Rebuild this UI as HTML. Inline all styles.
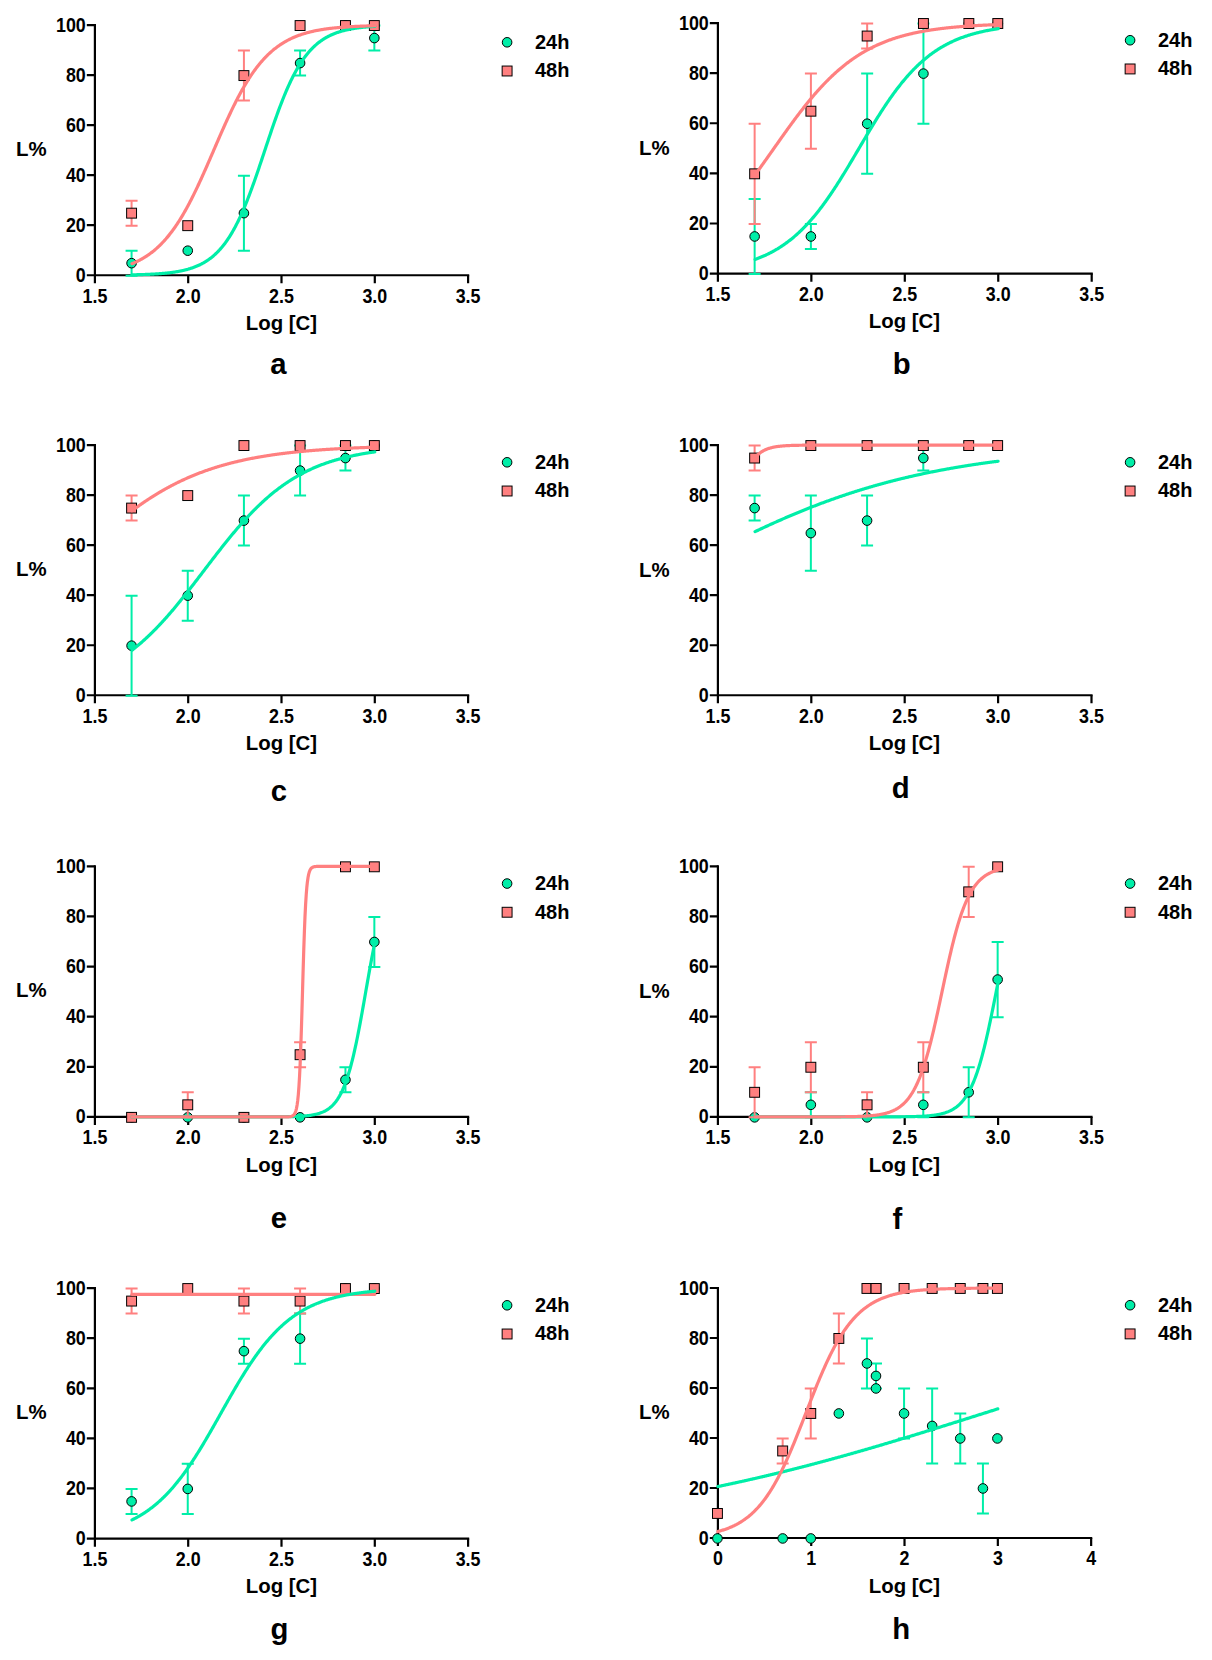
<!DOCTYPE html>
<html lang="en"><head><meta charset="utf-8">
<title>Dose-response curves</title>
<style>
html,body{margin:0;padding:0;background:#fff;}
body{width:1212px;height:1660px;overflow:hidden;}
svg{display:block;}
text{font-family:"Liberation Sans",Arial,Helvetica,sans-serif;font-weight:bold;fill:#000;}
.tl text{font-size:20.3px;}
.at{font-size:20.4px;}
.lg{font-size:20px;}
.pl{font-size:29.3px;}
.ax path{stroke:#000;stroke-width:2.2;fill:none;}
.eg{stroke:#00EEA8;stroke-width:2.0;fill:none;}
.er{stroke:#FF8080;stroke-width:2.0;fill:none;}
.mg{fill:#00EEA8;stroke:#000;stroke-width:1.0;}
.mr{fill:#FF8080;stroke:#000;stroke-width:1.0;}
.cg{stroke:#00EEA8;stroke-width:3.2;fill:none;stroke-linecap:round;stroke-linejoin:round;}
.cr{stroke:#FF8080;stroke-width:3.2;fill:none;stroke-linecap:round;stroke-linejoin:round;}
</style></head><body>
<svg width="1212" height="1660" viewBox="0 0 1212 1660">
<rect width="1212" height="1660" fill="#fff"/>
<g class="panel">
<g class="ax">
<path d="M94.9 24 V283.35"/>
<path d="M86.8 275.25 H469.2"/>
<path d="M86.8 225.22 H94.9 M86.8 175.19 H94.9 M86.8 125.16 H94.9 M86.8 75.13 H94.9 M86.8 25.1 H94.9 M188.2 275.25 V283.35 M281.5 275.25 V283.35 M374.8 275.25 V283.35 M468.1 275.25 V283.35"/>
</g>
<g class="tl" text-anchor="end">
<text transform="translate(85.8 281.75) scale(0.88 1)">0</text>
<text transform="translate(85.8 231.72) scale(0.88 1)">20</text>
<text transform="translate(85.8 181.69) scale(0.88 1)">40</text>
<text transform="translate(85.8 131.66) scale(0.88 1)">60</text>
<text transform="translate(85.8 81.63) scale(0.88 1)">80</text>
<text transform="translate(85.8 31.6) scale(0.88 1)">100</text>
</g>
<g class="tl" text-anchor="middle">
<text transform="translate(94.9 302.65) scale(0.88 1)">1.5</text>
<text transform="translate(188.2 302.65) scale(0.88 1)">2.0</text>
<text transform="translate(281.5 302.65) scale(0.88 1)">2.5</text>
<text transform="translate(374.8 302.65) scale(0.88 1)">3.0</text>
<text transform="translate(468.1 302.65) scale(0.88 1)">3.5</text>
</g>
<text class="at" x="16" y="155.88">L%</text>
<text class="at" text-anchor="middle" x="281.4" y="329.85">Log [C]</text>
<text class="pl" text-anchor="middle" x="278.5" y="374.1">a</text>
<circle class="mg" cx="507.1" cy="42.3" r="4.8"/>
<rect class="mr" x="502.15" y="66.05" width="9.9" height="9.9"/>
<text class="lg" x="535" y="48.6">24h</text>
<text class="lg" x="535" y="77.3">48h</text>
<path class="eg" d="M131.58 250.69 V275.7 M125.58 250.69 H137.58 M125.58 275.7 H137.58 M243.92 175.64 V250.69 M237.92 175.64 H249.92 M237.92 250.69 H249.92 M300.09 50.57 V75.58 M294.09 50.57 H306.09 M294.09 75.58 H306.09 M374.35 25.55 V50.57 M368.35 25.55 H380.35 M368.35 50.57 H380.35"/>
<circle class="mg" cx="131.58" cy="263.19" r="4.8"/>
<circle class="mg" cx="187.75" cy="250.69" r="4.8"/>
<circle class="mg" cx="243.92" cy="213.16" r="4.8"/>
<circle class="mg" cx="300.09" cy="63.07" r="4.8"/>
<circle class="mg" cx="345.45" cy="25.55" r="4.8"/>
<circle class="mg" cx="374.35" cy="38.06" r="4.8"/>
<path class="er" d="M131.58 200.65 V225.67 M125.58 200.65 H137.58 M125.58 225.67 H137.58 M243.92 50.57 V100.59 M237.92 50.57 H249.92 M237.92 100.59 H249.92"/>
<rect class="mr" x="126.63" y="208.21" width="9.9" height="9.9"/>
<rect class="mr" x="182.8" y="220.72" width="9.9" height="9.9"/>
<rect class="mr" x="238.97" y="70.63" width="9.9" height="9.9"/>
<rect class="mr" x="295.14" y="20.6" width="9.9" height="9.9"/>
<rect class="mr" x="340.5" y="20.6" width="9.9" height="9.9"/>
<rect class="mr" x="369.4" y="20.6" width="9.9" height="9.9"/>
<polyline class="cg" points="132.03,274.83 132.63,274.82 133.24,274.81 133.85,274.79 134.46,274.78 135.06,274.77 135.67,274.75 136.28,274.74 136.88,274.72 137.49,274.71 138.1,274.69 138.7,274.67 139.31,274.66 139.92,274.64 140.52,274.62 141.13,274.6 141.74,274.58 142.35,274.56 142.95,274.54 143.56,274.52 144.17,274.5 144.77,274.48 145.38,274.46 145.99,274.43 146.59,274.41 147.2,274.39 147.81,274.36 148.41,274.33 149.02,274.31 149.63,274.28 150.24,274.25 150.84,274.22 151.45,274.19 152.06,274.16 152.66,274.13 153.27,274.09 153.88,274.06 154.48,274.02 155.09,273.99 155.7,273.95 156.31,273.91 156.91,273.87 157.52,273.83 158.13,273.79 158.73,273.75 159.34,273.7 159.95,273.66 160.55,273.61 161.16,273.56 161.77,273.51 162.37,273.46 162.98,273.41 163.59,273.36 164.2,273.3 164.8,273.24 165.41,273.18 166.02,273.12 166.62,273.06 167.23,273 167.84,272.93 168.44,272.86 169.05,272.79 169.66,272.72 170.26,272.64 170.87,272.57 171.48,272.49 172.09,272.41 172.69,272.33 173.3,272.24 173.91,272.15 174.51,272.06 175.12,271.97 175.73,271.87 176.33,271.77 176.94,271.67 177.55,271.57 178.15,271.46 178.76,271.35 179.37,271.23 179.98,271.12 180.58,271 181.19,270.87 181.8,270.75 182.4,270.62 183.01,270.48 183.62,270.34 184.22,270.2 184.83,270.05 185.44,269.9 186.04,269.75 186.65,269.59 187.26,269.42 187.87,269.26 188.47,269.08 189.08,268.9 189.69,268.72 190.29,268.53 190.9,268.34 191.51,268.14 192.11,267.94 192.72,267.72 193.33,267.51 193.93,267.29 194.54,267.06 195.15,266.82 195.76,266.58 196.36,266.33 196.97,266.08 197.58,265.82 198.18,265.55 198.79,265.27 199.4,264.99 200,264.7 200.61,264.4 201.22,264.09 201.82,263.78 202.43,263.45 203.04,263.12 203.65,262.78 204.25,262.43 204.86,262.07 205.47,261.7 206.07,261.32 206.68,260.93 207.29,260.53 207.89,260.12 208.5,259.7 209.11,259.27 209.71,258.83 210.32,258.37 210.93,257.91 211.54,257.43 212.14,256.94 212.75,256.44 213.36,255.92 213.96,255.4 214.57,254.86 215.18,254.3 215.78,253.73 216.39,253.15 217,252.56 217.61,251.95 218.21,251.32 218.82,250.68 219.43,250.03 220.03,249.36 220.64,248.67 221.25,247.97 221.85,247.25 222.46,246.52 223.07,245.77 223.67,245 224.28,244.21 224.89,243.41 225.5,242.59 226.1,241.75 226.71,240.89 227.32,240.02 227.92,239.13 228.53,238.21 229.14,237.28 229.74,236.33 230.35,235.36 230.96,234.37 231.56,233.37 232.17,232.34 232.78,231.29 233.39,230.22 233.99,229.13 234.6,228.02 235.21,226.89 235.81,225.74 236.42,224.57 237.03,223.38 237.63,222.17 238.24,220.94 238.85,219.69 239.45,218.42 240.06,217.12 240.67,215.81 241.28,214.48 241.88,213.12 242.49,211.75 243.1,210.35 243.7,208.94 244.31,207.51 244.92,206.06 245.52,204.58 246.13,203.09 246.74,201.58 247.34,200.06 247.95,198.51 248.56,196.95 249.17,195.37 249.77,193.77 250.38,192.16 250.99,190.53 251.59,188.89 252.2,187.23 252.81,185.56 253.41,183.87 254.02,182.17 254.63,180.45 255.23,178.73 255.84,176.99 256.45,175.24 257.06,173.49 257.66,171.72 258.27,169.94 258.88,168.16 259.48,166.36 260.09,164.56 260.7,162.76 261.3,160.95 261.91,159.13 262.52,157.31 263.12,155.49 263.73,153.67 264.34,151.84 264.95,150.02 265.55,148.19 266.16,146.36 266.77,144.54 267.37,142.72 267.98,140.9 268.59,139.09 269.19,137.28 269.8,135.47 270.41,133.67 271.01,131.88 271.62,130.1 272.23,128.32 272.84,126.56 273.44,124.8 274.05,123.05 274.66,121.32 275.26,119.6 275.87,117.88 276.48,116.19 277.08,114.5 277.69,112.83 278.3,111.17 278.9,109.53 279.51,107.91 280.12,106.3 280.73,104.7 281.33,103.13 281.94,101.57 282.55,100.02 283.15,98.5 283.76,96.99 284.37,95.51 284.97,94.04 285.58,92.59 286.19,91.16 286.8,89.75 287.4,88.36 288.01,86.99 288.62,85.64 289.22,84.31 289.83,83 290.44,81.71 291.04,80.44 291.65,79.19 292.26,77.96 292.86,76.76 293.47,75.57 294.08,74.4 294.69,73.26 295.29,72.13 295.9,71.03 296.51,69.94 297.11,68.88 297.72,67.83 298.33,66.81 298.93,65.8 299.54,64.82 300.15,63.85 300.75,62.9 301.36,61.97 301.97,61.07 302.58,60.18 303.18,59.3 303.79,58.45 304.4,57.62 305,56.8 305.61,56 306.22,55.22 306.82,54.45 307.43,53.7 308.04,52.97 308.64,52.26 309.25,51.56 309.86,50.87 310.47,50.21 311.07,49.55 311.68,48.92 312.29,48.3 312.89,47.69 313.5,47.09 314.11,46.52 314.71,45.95 315.32,45.4 315.93,44.86 316.53,44.34 317.14,43.82 317.75,43.32 318.36,42.84 318.96,42.36 319.57,41.9 320.18,41.45 320.78,41.01 321.39,40.58 322,40.16 322.6,39.75 323.21,39.35 323.82,38.96 324.42,38.59 325.03,38.22 325.64,37.86 326.25,37.51 326.85,37.17 327.46,36.84 328.07,36.52 328.67,36.2 329.28,35.9 329.89,35.6 330.49,35.31 331.1,35.03 331.71,34.75 332.31,34.49 332.92,34.22 333.53,33.97 334.14,33.73 334.74,33.49 335.35,33.25 335.96,33.02 336.56,32.8 337.17,32.59 337.78,32.38 338.38,32.18 338.99,31.98 339.6,31.78 340.2,31.6 340.81,31.41 341.42,31.24 342.03,31.07 342.63,30.9 343.24,30.73 343.85,30.58 344.45,30.42 345.06,30.27 345.67,30.13 346.27,29.98 346.88,29.85 347.49,29.71 348.1,29.58 348.7,29.45 349.31,29.33 349.92,29.21 350.52,29.09 351.13,28.98 351.74,28.87 352.34,28.76 352.95,28.66 353.56,28.56 354.16,28.46 354.77,28.37 355.38,28.27 355.99,28.18 356.59,28.1 357.2,28.01 357.81,27.93 358.41,27.85 359.02,27.77 359.63,27.69 360.23,27.62 360.84,27.55 361.45,27.48 362.05,27.41 362.66,27.34 363.27,27.28 363.88,27.22 364.48,27.16 365.09,27.1 365.7,27.04 366.3,26.99 366.91,26.93 367.52,26.88 368.12,26.83 368.73,26.78 369.34,26.73 369.94,26.68 370.55,26.64 371.16,26.59 371.77,26.55 372.37,26.51 372.98,26.47 373.59,26.43 374.19,26.39 374.8,26.36"/>
<polyline class="cr" points="132.03,263.67 132.63,263.42 133.24,263.17 133.85,262.91 134.46,262.64 135.06,262.37 135.67,262.09 136.28,261.81 136.88,261.52 137.49,261.23 138.1,260.93 138.7,260.62 139.31,260.31 139.92,259.99 140.52,259.66 141.13,259.33 141.74,258.99 142.35,258.65 142.95,258.3 143.56,257.94 144.17,257.57 144.77,257.2 145.38,256.82 145.99,256.43 146.59,256.04 147.2,255.63 147.81,255.22 148.41,254.81 149.02,254.38 149.63,253.95 150.24,253.51 150.84,253.06 151.45,252.6 152.06,252.13 152.66,251.65 153.27,251.17 153.88,250.68 154.48,250.17 155.09,249.66 155.7,249.14 156.31,248.61 156.91,248.07 157.52,247.52 158.13,246.96 158.73,246.39 159.34,245.82 159.95,245.23 160.55,244.63 161.16,244.02 161.77,243.4 162.37,242.77 162.98,242.13 163.59,241.48 164.2,240.82 164.8,240.15 165.41,239.46 166.02,238.77 166.62,238.06 167.23,237.35 167.84,236.62 168.44,235.88 169.05,235.13 169.66,234.36 170.26,233.59 170.87,232.8 171.48,232.01 172.09,231.2 172.69,230.37 173.3,229.54 173.91,228.7 174.51,227.84 175.12,226.97 175.73,226.09 176.33,225.19 176.94,224.29 177.55,223.37 178.15,222.44 178.76,221.5 179.37,220.54 179.98,219.58 180.58,218.6 181.19,217.61 181.8,216.61 182.4,215.59 183.01,214.56 183.62,213.53 184.22,212.48 184.83,211.41 185.44,210.34 186.04,209.25 186.65,208.16 187.26,207.05 187.87,205.93 188.47,204.79 189.08,203.65 189.69,202.5 190.29,201.33 190.9,200.16 191.51,198.97 192.11,197.78 192.72,196.57 193.33,195.35 193.93,194.13 194.54,192.89 195.15,191.64 195.76,190.39 196.36,189.12 196.97,187.85 197.58,186.57 198.18,185.28 198.79,183.98 199.4,182.67 200,181.36 200.61,180.04 201.22,178.71 201.82,177.37 202.43,176.03 203.04,174.68 203.65,173.33 204.25,171.97 204.86,170.61 205.47,169.24 206.07,167.86 206.68,166.48 207.29,165.1 207.89,163.71 208.5,162.32 209.11,160.93 209.71,159.53 210.32,158.13 210.93,156.73 211.54,155.33 212.14,153.93 212.75,152.52 213.36,151.12 213.96,149.71 214.57,148.31 215.18,146.9 215.78,145.5 216.39,144.1 217,142.7 217.61,141.3 218.21,139.9 218.82,138.51 219.43,137.12 220.03,135.73 220.64,134.34 221.25,132.96 221.85,131.59 222.46,130.21 223.07,128.85 223.67,127.49 224.28,126.13 224.89,124.78 225.5,123.44 226.1,122.1 226.71,120.77 227.32,119.44 227.92,118.13 228.53,116.82 229.14,115.52 229.74,114.22 230.35,112.94 230.96,111.66 231.56,110.4 232.17,109.14 232.78,107.89 233.39,106.65 233.99,105.42 234.6,104.2 235.21,102.99 235.81,101.79 236.42,100.6 237.03,99.42 237.63,98.25 238.24,97.09 238.85,95.95 239.45,94.81 240.06,93.69 240.67,92.57 241.28,91.47 241.88,90.38 242.49,89.3 243.1,88.24 243.7,87.18 244.31,86.14 244.92,85.11 245.52,84.09 246.13,83.08 246.74,82.09 247.34,81.11 247.95,80.14 248.56,79.18 249.17,78.23 249.77,77.3 250.38,76.38 250.99,75.47 251.59,74.57 252.2,73.68 252.81,72.81 253.41,71.95 254.02,71.1 254.63,70.26 255.23,69.44 255.84,68.62 256.45,67.82 257.06,67.03 257.66,66.25 258.27,65.48 258.88,64.73 259.48,63.99 260.09,63.25 260.7,62.53 261.3,61.82 261.91,61.13 262.52,60.44 263.12,59.76 263.73,59.1 264.34,58.44 264.95,57.8 265.55,57.16 266.16,56.54 266.77,55.93 267.37,55.33 267.98,54.73 268.59,54.15 269.19,53.58 269.8,53.02 270.41,52.47 271.01,51.92 271.62,51.39 272.23,50.87 272.84,50.35 273.44,49.85 274.05,49.35 274.66,48.86 275.26,48.38 275.87,47.91 276.48,47.45 277.08,47 277.69,46.55 278.3,46.12 278.9,45.69 279.51,45.27 280.12,44.86 280.73,44.45 281.33,44.05 281.94,43.66 282.55,43.28 283.15,42.91 283.76,42.54 284.37,42.18 284.97,41.82 285.58,41.48 286.19,41.13 286.8,40.8 287.4,40.47 288.01,40.15 288.62,39.84 289.22,39.53 289.83,39.23 290.44,38.93 291.04,38.64 291.65,38.35 292.26,38.08 292.86,37.8 293.47,37.53 294.08,37.27 294.69,37.01 295.29,36.76 295.9,36.51 296.51,36.27 297.11,36.03 297.72,35.8 298.33,35.57 298.93,35.35 299.54,35.13 300.15,34.92 300.75,34.71 301.36,34.5 301.97,34.3 302.58,34.1 303.18,33.91 303.79,33.72 304.4,33.54 305,33.36 305.61,33.18 306.22,33 306.82,32.83 307.43,32.67 308.04,32.5 308.64,32.34 309.25,32.19 309.86,32.04 310.47,31.89 311.07,31.74 311.68,31.59 312.29,31.45 312.89,31.32 313.5,31.18 314.11,31.05 314.71,30.92 315.32,30.79 315.93,30.67 316.53,30.55 317.14,30.43 317.75,30.32 318.36,30.2 318.96,30.09 319.57,29.98 320.18,29.88 320.78,29.77 321.39,29.67 322,29.57 322.6,29.47 323.21,29.38 323.82,29.28 324.42,29.19 325.03,29.1 325.64,29.01 326.25,28.93 326.85,28.85 327.46,28.76 328.07,28.68 328.67,28.6 329.28,28.53 329.89,28.45 330.49,28.38 331.1,28.31 331.71,28.24 332.31,28.17 332.92,28.1 333.53,28.03 334.14,27.97 334.74,27.91 335.35,27.85 335.96,27.79 336.56,27.73 337.17,27.67 337.78,27.61 338.38,27.56 338.99,27.5 339.6,27.45 340.2,27.4 340.81,27.35 341.42,27.3 342.03,27.25 342.63,27.2 343.24,27.16 343.85,27.11 344.45,27.07 345.06,27.02 345.67,26.98 346.27,26.94 346.88,26.9 347.49,26.86 348.1,26.82 348.7,26.78 349.31,26.74 349.92,26.71 350.52,26.67 351.13,26.64 351.74,26.6 352.34,26.57 352.95,26.54 353.56,26.51 354.16,26.48 354.77,26.45 355.38,26.42 355.99,26.39 356.59,26.36 357.2,26.33 357.81,26.3 358.41,26.28 359.02,26.25 359.63,26.23 360.23,26.2 360.84,26.18 361.45,26.15 362.05,26.13 362.66,26.11 363.27,26.08 363.88,26.06 364.48,26.04 365.09,26.02 365.7,26 366.3,25.98 366.91,25.96 367.52,25.94 368.12,25.92 368.73,25.9 369.34,25.89 369.94,25.87 370.55,25.85 371.16,25.84 371.77,25.82 372.37,25.8 372.98,25.79 373.59,25.77 374.19,25.76 374.8,25.74"/>
</g>
<g class="panel">
<g class="ax">
<path d="M717.9 21.95 V281.7"/>
<path d="M709.8 273.6 H1092.8"/>
<path d="M709.8 223.49 H717.9 M709.8 173.38 H717.9 M709.8 123.27 H717.9 M709.8 73.16 H717.9 M709.8 23.05 H717.9 M811.35 273.6 V281.7 M904.8 273.6 V281.7 M998.25 273.6 V281.7 M1091.7 273.6 V281.7"/>
</g>
<g class="tl" text-anchor="end">
<text transform="translate(708.8 280.1) scale(0.88 1)">0</text>
<text transform="translate(708.8 229.99) scale(0.88 1)">20</text>
<text transform="translate(708.8 179.88) scale(0.88 1)">40</text>
<text transform="translate(708.8 129.77) scale(0.88 1)">60</text>
<text transform="translate(708.8 79.66) scale(0.88 1)">80</text>
<text transform="translate(708.8 29.55) scale(0.88 1)">100</text>
</g>
<g class="tl" text-anchor="middle">
<text transform="translate(717.9 301) scale(0.88 1)">1.5</text>
<text transform="translate(811.35 301) scale(0.88 1)">2.0</text>
<text transform="translate(904.8 301) scale(0.88 1)">2.5</text>
<text transform="translate(998.25 301) scale(0.88 1)">3.0</text>
<text transform="translate(1091.7 301) scale(0.88 1)">3.5</text>
</g>
<text class="at" x="639" y="154.72">L%</text>
<text class="at" text-anchor="middle" x="904.4" y="328.2">Log [C]</text>
<text class="pl" text-anchor="middle" x="901.6" y="373.9">b</text>
<circle class="mg" cx="1130.1" cy="40.25" r="4.8"/>
<rect class="mr" x="1125.15" y="64" width="9.9" height="9.9"/>
<text class="lg" x="1158" y="46.55">24h</text>
<text class="lg" x="1158" y="75.25">48h</text>
<path class="eg" d="M754.64 198.88 V274.05 M748.64 198.88 H760.64 M748.64 274.05 H760.64 M810.9 223.94 V249 M804.9 223.94 H816.9 M804.9 249 H816.9 M867.16 73.61 V173.83 M861.16 73.61 H873.16 M861.16 173.83 H873.16 M923.43 23.5 V123.72 M917.43 23.5 H929.43 M917.43 123.72 H929.43"/>
<circle class="mg" cx="754.64" cy="236.47" r="4.8"/>
<circle class="mg" cx="810.9" cy="236.47" r="4.8"/>
<circle class="mg" cx="867.16" cy="123.72" r="4.8"/>
<circle class="mg" cx="923.43" cy="73.61" r="4.8"/>
<circle class="mg" cx="968.85" cy="23.5" r="4.8"/>
<circle class="mg" cx="997.8" cy="23.5" r="4.8"/>
<path class="er" d="M754.64 123.72 V223.94 M748.64 123.72 H760.64 M748.64 223.94 H760.64 M810.9 73.61 V148.78 M804.9 73.61 H816.9 M804.9 148.78 H816.9 M867.16 23.5 V48.56 M861.16 23.5 H873.16 M861.16 48.56 H873.16"/>
<rect class="mr" x="749.69" y="168.88" width="9.9" height="9.9"/>
<rect class="mr" x="805.95" y="106.24" width="9.9" height="9.9"/>
<rect class="mr" x="862.21" y="31.08" width="9.9" height="9.9"/>
<rect class="mr" x="918.48" y="18.55" width="9.9" height="9.9"/>
<rect class="mr" x="963.9" y="18.55" width="9.9" height="9.9"/>
<rect class="mr" x="992.85" y="18.55" width="9.9" height="9.9"/>
<polyline class="cg" points="755.09,259.46 755.7,259.24 756.3,259.02 756.91,258.79 757.52,258.56 758.13,258.32 758.73,258.08 759.34,257.84 759.95,257.6 760.56,257.35 761.17,257.1 761.77,256.84 762.38,256.58 762.99,256.32 763.6,256.05 764.21,255.78 764.81,255.5 765.42,255.23 766.03,254.94 766.64,254.66 767.25,254.37 767.85,254.07 768.46,253.77 769.07,253.47 769.68,253.16 770.29,252.85 770.89,252.54 771.5,252.22 772.11,251.89 772.72,251.56 773.32,251.23 773.93,250.89 774.54,250.55 775.15,250.2 775.76,249.85 776.36,249.49 776.97,249.13 777.58,248.77 778.19,248.39 778.8,248.02 779.4,247.64 780.01,247.25 780.62,246.86 781.23,246.46 781.84,246.06 782.44,245.66 783.05,245.25 783.66,244.83 784.27,244.41 784.87,243.98 785.48,243.55 786.09,243.11 786.7,242.66 787.31,242.21 787.91,241.76 788.52,241.3 789.13,240.83 789.74,240.36 790.35,239.88 790.95,239.4 791.56,238.91 792.17,238.41 792.78,237.91 793.39,237.4 793.99,236.89 794.6,236.37 795.21,235.85 795.82,235.31 796.43,234.78 797.03,234.23 797.64,233.68 798.25,233.13 798.86,232.56 799.46,232 800.07,231.42 800.68,230.84 801.29,230.25 801.9,229.66 802.5,229.06 803.11,228.45 803.72,227.84 804.33,227.22 804.94,226.59 805.54,225.96 806.15,225.32 806.76,224.68 807.37,224.02 807.98,223.37 808.58,222.7 809.19,222.03 809.8,221.35 810.41,220.67 811.01,219.98 811.62,219.28 812.23,218.57 812.84,217.86 813.45,217.15 814.05,216.42 814.66,215.69 815.27,214.95 815.88,214.21 816.49,213.46 817.09,212.71 817.7,211.94 818.31,211.17 818.92,210.4 819.53,209.62 820.13,208.83 820.74,208.03 821.35,207.23 821.96,206.43 822.57,205.61 823.17,204.79 823.78,203.97 824.39,203.14 825,202.3 825.6,201.46 826.21,200.61 826.82,199.75 827.43,198.89 828.04,198.02 828.64,197.15 829.25,196.27 829.86,195.39 830.47,194.5 831.08,193.61 831.68,192.71 832.29,191.8 832.9,190.89 833.51,189.97 834.12,189.05 834.72,188.13 835.33,187.2 835.94,186.26 836.55,185.32 837.15,184.38 837.76,183.43 838.37,182.48 838.98,181.52 839.59,180.56 840.19,179.59 840.8,178.62 841.41,177.65 842.02,176.67 842.63,175.69 843.23,174.71 843.84,173.72 844.45,172.73 845.06,171.73 845.67,170.74 846.27,169.73 846.88,168.73 847.49,167.73 848.1,166.72 848.71,165.71 849.31,164.69 849.92,163.68 850.53,162.66 851.14,161.64 851.74,160.62 852.35,159.6 852.96,158.57 853.57,157.55 854.18,156.52 854.78,155.49 855.39,154.46 856,153.43 856.61,152.4 857.22,151.37 857.82,150.34 858.43,149.31 859.04,148.27 859.65,147.24 860.26,146.21 860.86,145.18 861.47,144.15 862.08,143.12 862.69,142.09 863.29,141.06 863.9,140.03 864.51,139 865.12,137.98 865.73,136.95 866.33,135.93 866.94,134.91 867.55,133.89 868.16,132.87 868.77,131.86 869.37,130.84 869.98,129.83 870.59,128.83 871.2,127.82 871.81,126.82 872.41,125.82 873.02,124.82 873.63,123.82 874.24,122.83 874.85,121.85 875.45,120.86 876.06,119.88 876.67,118.9 877.28,117.93 877.88,116.96 878.49,116 879.1,115.04 879.71,114.08 880.32,113.13 880.92,112.18 881.53,111.23 882.14,110.29 882.75,109.36 883.36,108.43 883.96,107.5 884.57,106.58 885.18,105.67 885.79,104.76 886.4,103.86 887,102.96 887.61,102.06 888.22,101.17 888.83,100.29 889.43,99.41 890.04,98.54 890.65,97.67 891.26,96.81 891.87,95.96 892.47,95.11 893.08,94.27 893.69,93.43 894.3,92.6 894.91,91.78 895.51,90.96 896.12,90.14 896.73,89.34 897.34,88.54 897.95,87.74 898.55,86.96 899.16,86.17 899.77,85.4 900.38,84.63 900.98,83.87 901.59,83.11 902.2,82.36 902.81,81.62 903.42,80.89 904.02,80.16 904.63,79.43 905.24,78.72 905.85,78.01 906.46,77.3 907.06,76.61 907.67,75.91 908.28,75.23 908.89,74.55 909.5,73.88 910.1,73.22 910.71,72.56 911.32,71.91 911.93,71.26 912.54,70.63 913.14,69.99 913.75,69.37 914.36,68.75 914.97,68.14 915.57,67.53 916.18,66.93 916.79,66.34 917.4,65.75 918.01,65.17 918.61,64.6 919.22,64.03 919.83,63.47 920.44,62.91 921.05,62.36 921.65,61.82 922.26,61.28 922.87,60.75 923.48,60.23 924.09,59.71 924.69,59.2 925.3,58.69 925.91,58.19 926.52,57.69 927.12,57.21 927.73,56.72 928.34,56.24 928.95,55.77 929.56,55.31 930.16,54.85 930.77,54.39 931.38,53.94 931.99,53.5 932.6,53.06 933.2,52.63 933.81,52.2 934.42,51.78 935.03,51.36 935.64,50.95 936.24,50.55 936.85,50.15 937.46,49.75 938.07,49.36 938.68,48.97 939.28,48.59 939.89,48.22 940.5,47.85 941.11,47.48 941.71,47.12 942.32,46.77 942.93,46.41 943.54,46.07 944.15,45.73 944.75,45.39 945.36,45.05 945.97,44.73 946.58,44.4 947.19,44.08 947.79,43.77 948.4,43.46 949.01,43.15 949.62,42.85 950.23,42.55 950.83,42.25 951.44,41.96 952.05,41.68 952.66,41.4 953.26,41.12 953.87,40.84 954.48,40.57 955.09,40.31 955.7,40.04 956.3,39.78 956.91,39.53 957.52,39.28 958.13,39.03 958.74,38.78 959.34,38.54 959.95,38.31 960.56,38.07 961.17,37.84 961.78,37.61 962.38,37.39 962.99,37.17 963.6,36.95 964.21,36.73 964.82,36.52 965.42,36.31 966.03,36.11 966.64,35.91 967.25,35.71 967.85,35.51 968.46,35.32 969.07,35.13 969.68,34.94 970.29,34.75 970.89,34.57 971.5,34.39 972.11,34.21 972.72,34.04 973.33,33.87 973.93,33.7 974.54,33.53 975.15,33.37 975.76,33.21 976.37,33.05 976.97,32.89 977.58,32.73 978.19,32.58 978.8,32.43 979.4,32.28 980.01,32.14 980.62,32 981.23,31.85 981.84,31.72 982.44,31.58 983.05,31.44 983.66,31.31 984.27,31.18 984.88,31.05 985.48,30.93 986.09,30.8 986.7,30.68 987.31,30.56 987.92,30.44 988.52,30.32 989.13,30.21 989.74,30.09 990.35,29.98 990.96,29.87 991.56,29.76 992.17,29.65 992.78,29.55 993.39,29.45 993.99,29.34 994.6,29.24 995.21,29.15 995.82,29.05 996.43,28.95 997.03,28.86 997.64,28.77 998.25,28.67"/>
<polyline class="cr" points="755.09,174.73 755.7,173.91 756.3,173.08 756.91,172.25 757.52,171.42 758.13,170.58 758.73,169.74 759.34,168.91 759.95,168.07 760.56,167.22 761.17,166.38 761.77,165.53 762.38,164.68 762.99,163.84 763.6,162.98 764.21,162.13 764.81,161.28 765.42,160.42 766.03,159.57 766.64,158.71 767.25,157.85 767.85,157 768.46,156.14 769.07,155.28 769.68,154.42 770.29,153.55 770.89,152.69 771.5,151.83 772.11,150.97 772.72,150.1 773.32,149.24 773.93,148.38 774.54,147.51 775.15,146.65 775.76,145.79 776.36,144.93 776.97,144.06 777.58,143.2 778.19,142.34 778.8,141.48 779.4,140.62 780.01,139.76 780.62,138.9 781.23,138.04 781.84,137.19 782.44,136.33 783.05,135.48 783.66,134.62 784.27,133.77 784.87,132.92 785.48,132.07 786.09,131.22 786.7,130.38 787.31,129.53 787.91,128.69 788.52,127.85 789.13,127.01 789.74,126.17 790.35,125.34 790.95,124.5 791.56,123.67 792.17,122.84 792.78,122.02 793.39,121.19 793.99,120.37 794.6,119.55 795.21,118.74 795.82,117.92 796.43,117.11 797.03,116.3 797.64,115.5 798.25,114.7 798.86,113.9 799.46,113.1 800.07,112.31 800.68,111.52 801.29,110.73 801.9,109.95 802.5,109.17 803.11,108.39 803.72,107.61 804.33,106.84 804.94,106.08 805.54,105.31 806.15,104.55 806.76,103.8 807.37,103.05 807.98,102.3 808.58,101.55 809.19,100.81 809.8,100.07 810.41,99.34 811.01,98.61 811.62,97.89 812.23,97.17 812.84,96.45 813.45,95.74 814.05,95.03 814.66,94.32 815.27,93.62 815.88,92.92 816.49,92.23 817.09,91.54 817.7,90.86 818.31,90.18 818.92,89.51 819.53,88.84 820.13,88.17 820.74,87.51 821.35,86.85 821.96,86.2 822.57,85.55 823.17,84.9 823.78,84.26 824.39,83.63 825,83 825.6,82.37 826.21,81.75 826.82,81.13 827.43,80.52 828.04,79.91 828.64,79.31 829.25,78.71 829.86,78.12 830.47,77.53 831.08,76.94 831.68,76.36 832.29,75.78 832.9,75.21 833.51,74.65 834.12,74.08 834.72,73.53 835.33,72.97 835.94,72.42 836.55,71.88 837.15,71.34 837.76,70.81 838.37,70.28 838.98,69.75 839.59,69.23 840.19,68.71 840.8,68.2 841.41,67.69 842.02,67.19 842.63,66.69 843.23,66.19 843.84,65.7 844.45,65.22 845.06,64.74 845.67,64.26 846.27,63.79 846.88,63.32 847.49,62.86 848.1,62.4 848.71,61.94 849.31,61.49 849.92,61.05 850.53,60.6 851.14,60.17 851.74,59.73 852.35,59.3 852.96,58.88 853.57,58.46 854.18,58.04 854.78,57.63 855.39,57.22 856,56.81 856.61,56.41 857.22,56.02 857.82,55.62 858.43,55.24 859.04,54.85 859.65,54.47 860.26,54.09 860.86,53.72 861.47,53.35 862.08,52.99 862.69,52.63 863.29,52.27 863.9,51.91 864.51,51.56 865.12,51.22 865.73,50.88 866.33,50.54 866.94,50.2 867.55,49.87 868.16,49.54 868.77,49.22 869.37,48.9 869.98,48.58 870.59,48.26 871.2,47.95 871.81,47.65 872.41,47.34 873.02,47.04 873.63,46.74 874.24,46.45 874.85,46.16 875.45,45.87 876.06,45.59 876.67,45.31 877.28,45.03 877.88,44.75 878.49,44.48 879.1,44.21 879.71,43.95 880.32,43.69 880.92,43.43 881.53,43.17 882.14,42.92 882.75,42.67 883.36,42.42 883.96,42.17 884.57,41.93 885.18,41.69 885.79,41.46 886.4,41.22 887,40.99 887.61,40.76 888.22,40.54 888.83,40.31 889.43,40.09 890.04,39.88 890.65,39.66 891.26,39.45 891.87,39.24 892.47,39.03 893.08,38.83 893.69,38.62 894.3,38.42 894.91,38.23 895.51,38.03 896.12,37.84 896.73,37.65 897.34,37.46 897.95,37.27 898.55,37.09 899.16,36.91 899.77,36.73 900.38,36.55 900.98,36.38 901.59,36.2 902.2,36.03 902.81,35.86 903.42,35.7 904.02,35.53 904.63,35.37 905.24,35.21 905.85,35.05 906.46,34.9 907.06,34.74 907.67,34.59 908.28,34.44 908.89,34.29 909.5,34.14 910.1,34 910.71,33.85 911.32,33.71 911.93,33.57 912.54,33.43 913.14,33.3 913.75,33.16 914.36,33.03 914.97,32.9 915.57,32.77 916.18,32.64 916.79,32.52 917.4,32.39 918.01,32.27 918.61,32.15 919.22,32.03 919.83,31.91 920.44,31.79 921.05,31.67 921.65,31.56 922.26,31.45 922.87,31.34 923.48,31.23 924.09,31.12 924.69,31.01 925.3,30.91 925.91,30.8 926.52,30.7 927.12,30.6 927.73,30.5 928.34,30.4 928.95,30.3 929.56,30.2 930.16,30.11 930.77,30.02 931.38,29.92 931.99,29.83 932.6,29.74 933.2,29.65 933.81,29.56 934.42,29.48 935.03,29.39 935.64,29.31 936.24,29.22 936.85,29.14 937.46,29.06 938.07,28.98 938.68,28.9 939.28,28.82 939.89,28.74 940.5,28.67 941.11,28.59 941.71,28.52 942.32,28.45 942.93,28.37 943.54,28.3 944.15,28.23 944.75,28.16 945.36,28.09 945.97,28.03 946.58,27.96 947.19,27.89 947.79,27.83 948.4,27.76 949.01,27.7 949.62,27.64 950.23,27.58 950.83,27.52 951.44,27.46 952.05,27.4 952.66,27.34 953.26,27.28 953.87,27.22 954.48,27.17 955.09,27.11 955.7,27.06 956.3,27 956.91,26.95 957.52,26.9 958.13,26.85 958.74,26.79 959.34,26.74 959.95,26.69 960.56,26.64 961.17,26.6 961.78,26.55 962.38,26.5 962.99,26.45 963.6,26.41 964.21,26.36 964.82,26.32 965.42,26.27 966.03,26.23 966.64,26.19 967.25,26.15 967.85,26.1 968.46,26.06 969.07,26.02 969.68,25.98 970.29,25.94 970.89,25.9 971.5,25.86 972.11,25.83 972.72,25.79 973.33,25.75 973.93,25.71 974.54,25.68 975.15,25.64 975.76,25.61 976.37,25.57 976.97,25.54 977.58,25.51 978.19,25.47 978.8,25.44 979.4,25.41 980.01,25.37 980.62,25.34 981.23,25.31 981.84,25.28 982.44,25.25 983.05,25.22 983.66,25.19 984.27,25.16 984.88,25.13 985.48,25.11 986.09,25.08 986.7,25.05 987.31,25.02 987.92,25 988.52,24.97 989.13,24.94 989.74,24.92 990.35,24.89 990.96,24.87 991.56,24.84 992.17,24.82 992.78,24.79 993.39,24.77 993.99,24.75 994.6,24.72 995.21,24.7 995.82,24.68 996.43,24.66 997.03,24.64 997.64,24.61 998.25,24.59"/>
</g>
<g class="panel">
<g class="ax">
<path d="M94.9 444 V703.37"/>
<path d="M86.8 695.27 H469.2"/>
<path d="M86.8 645.24 H94.9 M86.8 595.2 H94.9 M86.8 545.17 H94.9 M86.8 495.13 H94.9 M86.8 445.1 H94.9 M188.2 695.27 V703.37 M281.5 695.27 V703.37 M374.8 695.27 V703.37 M468.1 695.27 V703.37"/>
</g>
<g class="tl" text-anchor="end">
<text transform="translate(85.8 701.77) scale(0.88 1)">0</text>
<text transform="translate(85.8 651.74) scale(0.88 1)">20</text>
<text transform="translate(85.8 601.7) scale(0.88 1)">40</text>
<text transform="translate(85.8 551.67) scale(0.88 1)">60</text>
<text transform="translate(85.8 501.63) scale(0.88 1)">80</text>
<text transform="translate(85.8 451.6) scale(0.88 1)">100</text>
</g>
<g class="tl" text-anchor="middle">
<text transform="translate(94.9 722.67) scale(0.88 1)">1.5</text>
<text transform="translate(188.2 722.67) scale(0.88 1)">2.0</text>
<text transform="translate(281.5 722.67) scale(0.88 1)">2.5</text>
<text transform="translate(374.8 722.67) scale(0.88 1)">3.0</text>
<text transform="translate(468.1 722.67) scale(0.88 1)">3.5</text>
</g>
<text class="at" x="16" y="575.89">L%</text>
<text class="at" text-anchor="middle" x="281.4" y="749.87">Log [C]</text>
<text class="pl" text-anchor="middle" x="279" y="801">c</text>
<circle class="mg" cx="507.1" cy="462.3" r="4.8"/>
<rect class="mr" x="502.15" y="486.05" width="9.9" height="9.9"/>
<text class="lg" x="535" y="468.6">24h</text>
<text class="lg" x="535" y="497.3">48h</text>
<path class="eg" d="M131.58 595.65 V695.72 M125.58 595.65 H137.58 M125.58 695.72 H137.58 M187.75 570.63 V620.67 M181.75 570.63 H193.75 M181.75 620.67 H193.75 M243.92 495.58 V545.62 M237.92 495.58 H249.92 M237.92 545.62 H249.92 M300.09 445.55 V495.58 M294.09 445.55 H306.09 M294.09 495.58 H306.09 M345.45 445.55 V470.57 M339.45 445.55 H351.45 M339.45 470.57 H351.45"/>
<circle class="mg" cx="131.58" cy="645.69" r="4.8"/>
<circle class="mg" cx="187.75" cy="595.65" r="4.8"/>
<circle class="mg" cx="243.92" cy="520.6" r="4.8"/>
<circle class="mg" cx="300.09" cy="470.57" r="4.8"/>
<circle class="mg" cx="345.45" cy="458.06" r="4.8"/>
<circle class="mg" cx="374.35" cy="445.55" r="4.8"/>
<path class="er" d="M131.58 495.58 V520.6 M125.58 495.58 H137.58 M125.58 520.6 H137.58"/>
<rect class="mr" x="126.63" y="503.14" width="9.9" height="9.9"/>
<rect class="mr" x="182.8" y="490.63" width="9.9" height="9.9"/>
<rect class="mr" x="238.97" y="440.6" width="9.9" height="9.9"/>
<rect class="mr" x="295.14" y="440.6" width="9.9" height="9.9"/>
<rect class="mr" x="340.5" y="440.6" width="9.9" height="9.9"/>
<rect class="mr" x="369.4" y="440.6" width="9.9" height="9.9"/>
<polyline class="cg" points="132.03,650.19 132.63,649.72 133.24,649.24 133.85,648.76 134.46,648.28 135.06,647.79 135.67,647.3 136.28,646.8 136.88,646.3 137.49,645.8 138.1,645.29 138.7,644.78 139.31,644.26 139.92,643.75 140.52,643.22 141.13,642.7 141.74,642.17 142.35,641.63 142.95,641.09 143.56,640.55 144.17,640 144.77,639.45 145.38,638.9 145.99,638.34 146.59,637.78 147.2,637.21 147.81,636.64 148.41,636.07 149.02,635.49 149.63,634.91 150.24,634.33 150.84,633.74 151.45,633.15 152.06,632.55 152.66,631.95 153.27,631.35 153.88,630.74 154.48,630.13 155.09,629.51 155.7,628.89 156.31,628.27 156.91,627.64 157.52,627.01 158.13,626.38 158.73,625.74 159.34,625.1 159.95,624.46 160.55,623.81 161.16,623.16 161.77,622.5 162.37,621.84 162.98,621.18 163.59,620.51 164.2,619.85 164.8,619.17 165.41,618.5 166.02,617.82 166.62,617.14 167.23,616.45 167.84,615.76 168.44,615.07 169.05,614.37 169.66,613.67 170.26,612.97 170.87,612.27 171.48,611.56 172.09,610.85 172.69,610.14 173.3,609.42 173.91,608.7 174.51,607.98 175.12,607.25 175.73,606.53 176.33,605.8 176.94,605.06 177.55,604.33 178.15,603.59 178.76,602.85 179.37,602.1 179.98,601.36 180.58,600.61 181.19,599.86 181.8,599.11 182.4,598.35 183.01,597.6 183.62,596.84 184.22,596.08 184.83,595.31 185.44,594.55 186.04,593.78 186.65,593.01 187.26,592.24 187.87,591.47 188.47,590.7 189.08,589.92 189.69,589.14 190.29,588.36 190.9,587.58 191.51,586.8 192.11,586.02 192.72,585.23 193.33,584.45 193.93,583.66 194.54,582.88 195.15,582.09 195.76,581.3 196.36,580.51 196.97,579.72 197.58,578.92 198.18,578.13 198.79,577.34 199.4,576.54 200,575.75 200.61,574.95 201.22,574.16 201.82,573.36 202.43,572.57 203.04,571.77 203.65,570.97 204.25,570.18 204.86,569.38 205.47,568.59 206.07,567.79 206.68,566.99 207.29,566.2 207.89,565.4 208.5,564.61 209.11,563.81 209.71,563.02 210.32,562.23 210.93,561.43 211.54,560.64 212.14,559.85 212.75,559.06 213.36,558.27 213.96,557.48 214.57,556.69 215.18,555.91 215.78,555.12 216.39,554.34 217,553.56 217.61,552.77 218.21,551.99 218.82,551.22 219.43,550.44 220.03,549.66 220.64,548.89 221.25,548.12 221.85,547.35 222.46,546.58 223.07,545.81 223.67,545.04 224.28,544.28 224.89,543.52 225.5,542.76 226.1,542 226.71,541.25 227.32,540.5 227.92,539.75 228.53,539 229.14,538.25 229.74,537.51 230.35,536.77 230.96,536.03 231.56,535.3 232.17,534.56 232.78,533.83 233.39,533.1 233.99,532.38 234.6,531.66 235.21,530.94 235.81,530.22 236.42,529.51 237.03,528.8 237.63,528.09 238.24,527.39 238.85,526.68 239.45,525.99 240.06,525.29 240.67,524.6 241.28,523.91 241.88,523.22 242.49,522.54 243.1,521.86 243.7,521.19 244.31,520.51 244.92,519.84 245.52,519.18 246.13,518.52 246.74,517.86 247.34,517.2 247.95,516.55 248.56,515.9 249.17,515.26 249.77,514.62 250.38,513.98 250.99,513.35 251.59,512.72 252.2,512.09 252.81,511.47 253.41,510.85 254.02,510.23 254.63,509.62 255.23,509.01 255.84,508.41 256.45,507.81 257.06,507.21 257.66,506.62 258.27,506.03 258.88,505.45 259.48,504.87 260.09,504.29 260.7,503.72 261.3,503.15 261.91,502.58 262.52,502.02 263.12,501.46 263.73,500.91 264.34,500.36 264.95,499.81 265.55,499.27 266.16,498.73 266.77,498.2 267.37,497.67 267.98,497.14 268.59,496.62 269.19,496.1 269.8,495.58 270.41,495.07 271.01,494.56 271.62,494.06 272.23,493.56 272.84,493.07 273.44,492.57 274.05,492.09 274.66,491.6 275.26,491.12 275.87,490.65 276.48,490.17 277.08,489.7 277.69,489.24 278.3,488.78 278.9,488.32 279.51,487.87 280.12,487.42 280.73,486.97 281.33,486.53 281.94,486.09 282.55,485.66 283.15,485.23 283.76,484.8 284.37,484.38 284.97,483.96 285.58,483.54 286.19,483.13 286.8,482.72 287.4,482.32 288.01,481.91 288.62,481.52 289.22,481.12 289.83,480.73 290.44,480.34 291.04,479.96 291.65,479.58 292.26,479.2 292.86,478.83 293.47,478.46 294.08,478.09 294.69,477.73 295.29,477.37 295.9,477.01 296.51,476.66 297.11,476.31 297.72,475.97 298.33,475.62 298.93,475.28 299.54,474.95 300.15,474.61 300.75,474.28 301.36,473.96 301.97,473.63 302.58,473.31 303.18,473 303.79,472.68 304.4,472.37 305,472.06 305.61,471.76 306.22,471.46 306.82,471.16 307.43,470.86 308.04,470.57 308.64,470.28 309.25,469.99 309.86,469.71 310.47,469.43 311.07,469.15 311.68,468.88 312.29,468.6 312.89,468.33 313.5,468.07 314.11,467.8 314.71,467.54 315.32,467.28 315.93,467.03 316.53,466.77 317.14,466.52 317.75,466.27 318.36,466.03 318.96,465.79 319.57,465.54 320.18,465.31 320.78,465.07 321.39,464.84 322,464.61 322.6,464.38 323.21,464.16 323.82,463.93 324.42,463.71 325.03,463.49 325.64,463.28 326.25,463.06 326.85,462.85 327.46,462.64 328.07,462.44 328.67,462.23 329.28,462.03 329.89,461.83 330.49,461.63 331.1,461.44 331.71,461.25 332.31,461.05 332.92,460.86 333.53,460.68 334.14,460.49 334.74,460.31 335.35,460.13 335.96,459.95 336.56,459.77 337.17,459.6 337.78,459.43 338.38,459.25 338.99,459.09 339.6,458.92 340.2,458.75 340.81,458.59 341.42,458.43 342.03,458.27 342.63,458.11 343.24,457.95 343.85,457.8 344.45,457.65 345.06,457.5 345.67,457.35 346.27,457.2 346.88,457.05 347.49,456.91 348.1,456.77 348.7,456.63 349.31,456.49 349.92,456.35 350.52,456.21 351.13,456.08 351.74,455.95 352.34,455.82 352.95,455.69 353.56,455.56 354.16,455.43 354.77,455.31 355.38,455.18 355.99,455.06 356.59,454.94 357.2,454.82 357.81,454.7 358.41,454.58 359.02,454.47 359.63,454.35 360.23,454.24 360.84,454.13 361.45,454.02 362.05,453.91 362.66,453.8 363.27,453.7 363.88,453.59 364.48,453.49 365.09,453.38 365.7,453.28 366.3,453.18 366.91,453.08 367.52,452.99 368.12,452.89 368.73,452.79 369.34,452.7 369.94,452.61 370.55,452.51 371.16,452.42 371.77,452.33 372.37,452.24 372.98,452.16 373.59,452.07 374.19,451.98 374.8,451.9"/>
<polyline class="cr" points="132.03,510.76 132.63,510.31 133.24,509.86 133.85,509.41 134.46,508.96 135.06,508.52 135.67,508.08 136.28,507.64 136.88,507.2 137.49,506.76 138.1,506.33 138.7,505.9 139.31,505.47 139.92,505.04 140.52,504.61 141.13,504.19 141.74,503.77 142.35,503.35 142.95,502.93 143.56,502.52 144.17,502.1 144.77,501.69 145.38,501.28 145.99,500.88 146.59,500.47 147.2,500.07 147.81,499.67 148.41,499.27 149.02,498.87 149.63,498.48 150.24,498.09 150.84,497.7 151.45,497.31 152.06,496.93 152.66,496.54 153.27,496.16 153.88,495.78 154.48,495.4 155.09,495.03 155.7,494.66 156.31,494.28 156.91,493.92 157.52,493.55 158.13,493.18 158.73,492.82 159.34,492.46 159.95,492.1 160.55,491.75 161.16,491.39 161.77,491.04 162.37,490.69 162.98,490.34 163.59,490 164.2,489.65 164.8,489.31 165.41,488.97 166.02,488.63 166.62,488.3 167.23,487.96 167.84,487.63 168.44,487.3 169.05,486.98 169.66,486.65 170.26,486.33 170.87,486.01 171.48,485.69 172.09,485.37 172.69,485.05 173.3,484.74 173.91,484.43 174.51,484.12 175.12,483.81 175.73,483.51 176.33,483.2 176.94,482.9 177.55,482.6 178.15,482.3 178.76,482.01 179.37,481.72 179.98,481.42 180.58,481.13 181.19,480.85 181.8,480.56 182.4,480.28 183.01,479.99 183.62,479.71 184.22,479.44 184.83,479.16 185.44,478.89 186.04,478.61 186.65,478.34 187.26,478.07 187.87,477.81 188.47,477.54 189.08,477.28 189.69,477.02 190.29,476.76 190.9,476.5 191.51,476.24 192.11,475.99 192.72,475.74 193.33,475.48 193.93,475.24 194.54,474.99 195.15,474.74 195.76,474.5 196.36,474.26 196.97,474.02 197.58,473.78 198.18,473.54 198.79,473.31 199.4,473.07 200,472.84 200.61,472.61 201.22,472.38 201.82,472.16 202.43,471.93 203.04,471.71 203.65,471.49 204.25,471.27 204.86,471.05 205.47,470.83 206.07,470.61 206.68,470.4 207.29,470.19 207.89,469.98 208.5,469.77 209.11,469.56 209.71,469.36 210.32,469.15 210.93,468.95 211.54,468.75 212.14,468.55 212.75,468.35 213.36,468.15 213.96,467.96 214.57,467.76 215.18,467.57 215.78,467.38 216.39,467.19 217,467 217.61,466.82 218.21,466.63 218.82,466.45 219.43,466.27 220.03,466.09 220.64,465.91 221.25,465.73 221.85,465.55 222.46,465.38 223.07,465.2 223.67,465.03 224.28,464.86 224.89,464.69 225.5,464.52 226.1,464.36 226.71,464.19 227.32,464.03 227.92,463.86 228.53,463.7 229.14,463.54 229.74,463.38 230.35,463.22 230.96,463.07 231.56,462.91 232.17,462.76 232.78,462.6 233.39,462.45 233.99,462.3 234.6,462.15 235.21,462 235.81,461.86 236.42,461.71 237.03,461.57 237.63,461.42 238.24,461.28 238.85,461.14 239.45,461 240.06,460.86 240.67,460.72 241.28,460.59 241.88,460.45 242.49,460.32 243.1,460.18 243.7,460.05 244.31,459.92 244.92,459.79 245.52,459.66 246.13,459.53 246.74,459.41 247.34,459.28 247.95,459.16 248.56,459.03 249.17,458.91 249.77,458.79 250.38,458.67 250.99,458.55 251.59,458.43 252.2,458.31 252.81,458.19 253.41,458.08 254.02,457.96 254.63,457.85 255.23,457.74 255.84,457.63 256.45,457.51 257.06,457.4 257.66,457.3 258.27,457.19 258.88,457.08 259.48,456.97 260.09,456.87 260.7,456.76 261.3,456.66 261.91,456.56 262.52,456.46 263.12,456.35 263.73,456.25 264.34,456.16 264.95,456.06 265.55,455.96 266.16,455.86 266.77,455.77 267.37,455.67 267.98,455.58 268.59,455.48 269.19,455.39 269.8,455.3 270.41,455.21 271.01,455.12 271.62,455.03 272.23,454.94 272.84,454.85 273.44,454.76 274.05,454.68 274.66,454.59 275.26,454.51 275.87,454.42 276.48,454.34 277.08,454.25 277.69,454.17 278.3,454.09 278.9,454.01 279.51,453.93 280.12,453.85 280.73,453.77 281.33,453.69 281.94,453.62 282.55,453.54 283.15,453.46 283.76,453.39 284.37,453.31 284.97,453.24 285.58,453.17 286.19,453.09 286.8,453.02 287.4,452.95 288.01,452.88 288.62,452.81 289.22,452.74 289.83,452.67 290.44,452.6 291.04,452.53 291.65,452.47 292.26,452.4 292.86,452.33 293.47,452.27 294.08,452.2 294.69,452.14 295.29,452.08 295.9,452.01 296.51,451.95 297.11,451.89 297.72,451.83 298.33,451.76 298.93,451.7 299.54,451.64 300.15,451.59 300.75,451.53 301.36,451.47 301.97,451.41 302.58,451.35 303.18,451.3 303.79,451.24 304.4,451.18 305,451.13 305.61,451.07 306.22,451.02 306.82,450.97 307.43,450.91 308.04,450.86 308.64,450.81 309.25,450.75 309.86,450.7 310.47,450.65 311.07,450.6 311.68,450.55 312.29,450.5 312.89,450.45 313.5,450.4 314.11,450.36 314.71,450.31 315.32,450.26 315.93,450.21 316.53,450.17 317.14,450.12 317.75,450.07 318.36,450.03 318.96,449.98 319.57,449.94 320.18,449.89 320.78,449.85 321.39,449.81 322,449.76 322.6,449.72 323.21,449.68 323.82,449.64 324.42,449.6 325.03,449.55 325.64,449.51 326.25,449.47 326.85,449.43 327.46,449.39 328.07,449.35 328.67,449.32 329.28,449.28 329.89,449.24 330.49,449.2 331.1,449.16 331.71,449.13 332.31,449.09 332.92,449.05 333.53,449.02 334.14,448.98 334.74,448.94 335.35,448.91 335.96,448.87 336.56,448.84 337.17,448.81 337.78,448.77 338.38,448.74 338.99,448.7 339.6,448.67 340.2,448.64 340.81,448.61 341.42,448.57 342.03,448.54 342.63,448.51 343.24,448.48 343.85,448.45 344.45,448.42 345.06,448.39 345.67,448.36 346.27,448.33 346.88,448.3 347.49,448.27 348.1,448.24 348.7,448.21 349.31,448.18 349.92,448.15 350.52,448.12 351.13,448.1 351.74,448.07 352.34,448.04 352.95,448.01 353.56,447.99 354.16,447.96 354.77,447.93 355.38,447.91 355.99,447.88 356.59,447.86 357.2,447.83 357.81,447.81 358.41,447.78 359.02,447.76 359.63,447.73 360.23,447.71 360.84,447.68 361.45,447.66 362.05,447.64 362.66,447.61 363.27,447.59 363.88,447.57 364.48,447.54 365.09,447.52 365.7,447.5 366.3,447.48 366.91,447.45 367.52,447.43 368.12,447.41 368.73,447.39 369.34,447.37 369.94,447.35 370.55,447.33 371.16,447.31 371.77,447.29 372.37,447.27 372.98,447.25 373.59,447.23 374.19,447.21 374.8,447.19"/>
</g>
<g class="panel">
<g class="ax">
<path d="M717.9 444 V703.37"/>
<path d="M709.8 695.27 H1092.6"/>
<path d="M709.8 645.24 H717.9 M709.8 595.2 H717.9 M709.8 545.17 H717.9 M709.8 495.13 H717.9 M709.8 445.1 H717.9 M811.3 695.27 V703.37 M904.7 695.27 V703.37 M998.1 695.27 V703.37 M1091.5 695.27 V703.37"/>
</g>
<g class="tl" text-anchor="end">
<text transform="translate(708.8 701.77) scale(0.88 1)">0</text>
<text transform="translate(708.8 651.74) scale(0.88 1)">20</text>
<text transform="translate(708.8 601.7) scale(0.88 1)">40</text>
<text transform="translate(708.8 551.67) scale(0.88 1)">60</text>
<text transform="translate(708.8 501.63) scale(0.88 1)">80</text>
<text transform="translate(708.8 451.6) scale(0.88 1)">100</text>
</g>
<g class="tl" text-anchor="middle">
<text transform="translate(717.9 722.67) scale(0.88 1)">1.5</text>
<text transform="translate(811.3 722.67) scale(0.88 1)">2.0</text>
<text transform="translate(904.7 722.67) scale(0.88 1)">2.5</text>
<text transform="translate(998.1 722.67) scale(0.88 1)">3.0</text>
<text transform="translate(1091.5 722.67) scale(0.88 1)">3.5</text>
</g>
<text class="at" x="639" y="576.59">L%</text>
<text class="at" text-anchor="middle" x="904.4" y="749.87">Log [C]</text>
<text class="pl" text-anchor="middle" x="900.6" y="798.3">d</text>
<circle class="mg" cx="1130.1" cy="462.3" r="4.8"/>
<rect class="mr" x="1125.15" y="486.05" width="9.9" height="9.9"/>
<text class="lg" x="1158" y="468.6">24h</text>
<text class="lg" x="1158" y="497.3">48h</text>
<path class="eg" d="M754.62 495.58 V520.6 M748.62 495.58 H760.62 M748.62 520.6 H760.62 M810.85 495.58 V570.63 M804.85 495.58 H816.85 M804.85 570.63 H816.85 M867.08 495.58 V545.62 M861.08 495.58 H873.08 M861.08 545.62 H873.08 M923.31 445.55 V470.57 M917.31 445.55 H929.31 M917.31 470.57 H929.31"/>
<circle class="mg" cx="754.62" cy="508.09" r="4.8"/>
<circle class="mg" cx="810.85" cy="533.11" r="4.8"/>
<circle class="mg" cx="867.08" cy="520.6" r="4.8"/>
<circle class="mg" cx="923.31" cy="458.06" r="4.8"/>
<circle class="mg" cx="968.71" cy="445.55" r="4.8"/>
<circle class="mg" cx="997.65" cy="445.55" r="4.8"/>
<path class="er" d="M754.62 445.55 V470.57 M748.62 445.55 H760.62 M748.62 470.57 H760.62"/>
<rect class="mr" x="749.67" y="453.11" width="9.9" height="9.9"/>
<rect class="mr" x="805.9" y="440.6" width="9.9" height="9.9"/>
<rect class="mr" x="862.13" y="440.6" width="9.9" height="9.9"/>
<rect class="mr" x="918.36" y="440.6" width="9.9" height="9.9"/>
<rect class="mr" x="963.76" y="440.6" width="9.9" height="9.9"/>
<rect class="mr" x="992.7" y="440.6" width="9.9" height="9.9"/>
<polyline class="cg" points="755.07,531.63 755.68,531.34 756.28,531.05 756.89,530.77 757.5,530.48 758.11,530.19 758.71,529.91 759.32,529.62 759.93,529.34 760.54,529.05 761.14,528.77 761.75,528.49 762.36,528.2 762.97,527.92 763.57,527.64 764.18,527.36 764.79,527.08 765.4,526.8 766,526.52 766.61,526.24 767.22,525.96 767.83,525.68 768.43,525.4 769.04,525.12 769.65,524.85 770.26,524.57 770.86,524.29 771.47,524.02 772.08,523.74 772.69,523.47 773.3,523.2 773.9,522.92 774.51,522.65 775.12,522.38 775.73,522.11 776.33,521.83 776.94,521.56 777.55,521.29 778.16,521.02 778.76,520.75 779.37,520.49 779.98,520.22 780.59,519.95 781.19,519.68 781.8,519.42 782.41,519.15 783.02,518.89 783.62,518.62 784.23,518.36 784.84,518.09 785.45,517.83 786.05,517.57 786.66,517.31 787.27,517.05 787.88,516.78 788.48,516.52 789.09,516.27 789.7,516.01 790.31,515.75 790.91,515.49 791.52,515.23 792.13,514.98 792.74,514.72 793.35,514.46 793.95,514.21 794.56,513.95 795.17,513.7 795.78,513.45 796.38,513.19 796.99,512.94 797.6,512.69 798.21,512.44 798.81,512.19 799.42,511.94 800.03,511.69 800.64,511.44 801.24,511.19 801.85,510.95 802.46,510.7 803.07,510.45 803.67,510.21 804.28,509.96 804.89,509.72 805.5,509.48 806.1,509.23 806.71,508.99 807.32,508.75 807.93,508.51 808.53,508.27 809.14,508.03 809.75,507.79 810.36,507.55 810.97,507.31 811.57,507.07 812.18,506.83 812.79,506.6 813.4,506.36 814,506.13 814.61,505.89 815.22,505.66 815.83,505.42 816.43,505.19 817.04,504.96 817.65,504.73 818.26,504.5 818.86,504.27 819.47,504.04 820.08,503.81 820.69,503.58 821.29,503.35 821.9,503.12 822.51,502.9 823.12,502.67 823.72,502.45 824.33,502.22 824.94,502 825.55,501.77 826.15,501.55 826.76,501.33 827.37,501.11 827.98,500.88 828.58,500.66 829.19,500.44 829.8,500.23 830.41,500.01 831.02,499.79 831.62,499.57 832.23,499.35 832.84,499.14 833.45,498.92 834.05,498.71 834.66,498.49 835.27,498.28 835.88,498.07 836.48,497.86 837.09,497.64 837.7,497.43 838.31,497.22 838.91,497.01 839.52,496.8 840.13,496.59 840.74,496.39 841.34,496.18 841.95,495.97 842.56,495.77 843.17,495.56 843.77,495.36 844.38,495.15 844.99,494.95 845.6,494.75 846.2,494.54 846.81,494.34 847.42,494.14 848.03,493.94 848.64,493.74 849.24,493.54 849.85,493.34 850.46,493.14 851.07,492.95 851.67,492.75 852.28,492.55 852.89,492.36 853.5,492.16 854.1,491.97 854.71,491.78 855.32,491.58 855.93,491.39 856.53,491.2 857.14,491.01 857.75,490.82 858.36,490.63 858.96,490.44 859.57,490.25 860.18,490.06 860.79,489.87 861.39,489.69 862,489.5 862.61,489.31 863.22,489.13 863.82,488.94 864.43,488.76 865.04,488.58 865.65,488.39 866.25,488.21 866.86,488.03 867.47,487.85 868.08,487.67 868.69,487.49 869.29,487.31 869.9,487.13 870.51,486.96 871.12,486.78 871.72,486.6 872.33,486.43 872.94,486.25 873.55,486.08 874.15,485.9 874.76,485.73 875.37,485.55 875.98,485.38 876.58,485.21 877.19,485.04 877.8,484.87 878.41,484.7 879.01,484.53 879.62,484.36 880.23,484.19 880.84,484.02 881.44,483.86 882.05,483.69 882.66,483.52 883.27,483.36 883.87,483.19 884.48,483.03 885.09,482.87 885.7,482.7 886.31,482.54 886.91,482.38 887.52,482.22 888.13,482.06 888.74,481.9 889.34,481.74 889.95,481.58 890.56,481.42 891.17,481.26 891.77,481.11 892.38,480.95 892.99,480.79 893.6,480.64 894.2,480.48 894.81,480.33 895.42,480.17 896.03,480.02 896.63,479.87 897.24,479.72 897.85,479.56 898.46,479.41 899.06,479.26 899.67,479.11 900.28,478.96 900.89,478.81 901.49,478.67 902.1,478.52 902.71,478.37 903.32,478.22 903.92,478.08 904.53,477.93 905.14,477.79 905.75,477.64 906.36,477.5 906.96,477.36 907.57,477.21 908.18,477.07 908.79,476.93 909.39,476.79 910,476.65 910.61,476.51 911.22,476.37 911.82,476.23 912.43,476.09 913.04,475.95 913.65,475.81 914.25,475.68 914.86,475.54 915.47,475.4 916.08,475.27 916.68,475.13 917.29,475 917.9,474.87 918.51,474.73 919.11,474.6 919.72,474.47 920.33,474.34 920.94,474.21 921.54,474.07 922.15,473.94 922.76,473.81 923.37,473.69 923.98,473.56 924.58,473.43 925.19,473.3 925.8,473.17 926.41,473.05 927.01,472.92 927.62,472.8 928.23,472.67 928.84,472.55 929.44,472.42 930.05,472.3 930.66,472.17 931.27,472.05 931.87,471.93 932.48,471.81 933.09,471.69 933.7,471.57 934.3,471.45 934.91,471.33 935.52,471.21 936.13,471.09 936.73,470.97 937.34,470.85 937.95,470.73 938.56,470.62 939.16,470.5 939.77,470.38 940.38,470.27 940.99,470.15 941.59,470.04 942.2,469.92 942.81,469.81 943.42,469.7 944.03,469.59 944.63,469.47 945.24,469.36 945.85,469.25 946.46,469.14 947.06,469.03 947.67,468.92 948.28,468.81 948.89,468.7 949.49,468.59 950.1,468.48 950.71,468.38 951.32,468.27 951.92,468.16 952.53,468.06 953.14,467.95 953.75,467.84 954.35,467.74 954.96,467.63 955.57,467.53 956.18,467.43 956.78,467.32 957.39,467.22 958,467.12 958.61,467.02 959.21,466.91 959.82,466.81 960.43,466.71 961.04,466.61 961.65,466.51 962.25,466.41 962.86,466.31 963.47,466.21 964.08,466.12 964.68,466.02 965.29,465.92 965.9,465.82 966.51,465.73 967.11,465.63 967.72,465.54 968.33,465.44 968.94,465.34 969.54,465.25 970.15,465.16 970.76,465.06 971.37,464.97 971.97,464.88 972.58,464.78 973.19,464.69 973.8,464.6 974.4,464.51 975.01,464.42 975.62,464.33 976.23,464.24 976.83,464.15 977.44,464.06 978.05,463.97 978.66,463.88 979.26,463.79 979.87,463.7 980.48,463.62 981.09,463.53 981.7,463.44 982.3,463.36 982.91,463.27 983.52,463.18 984.13,463.1 984.73,463.01 985.34,462.93 985.95,462.85 986.56,462.76 987.16,462.68 987.77,462.59 988.38,462.51 988.99,462.43 989.59,462.35 990.2,462.27 990.81,462.19 991.42,462.1 992.02,462.02 992.63,461.94 993.24,461.86 993.85,461.78 994.45,461.7 995.06,461.63 995.67,461.55 996.28,461.47 996.88,461.39 997.49,461.31 998.1,461.24"/>
<polyline class="cr" points="755.07,457.58 755.68,456.89 756.28,456.23 756.89,455.61 757.5,455.03 758.11,454.47 758.71,453.95 759.32,453.45 759.93,452.98 760.54,452.53 761.14,452.11 761.75,451.72 762.36,451.34 762.97,450.99 763.57,450.65 764.18,450.34 764.79,450.04 765.4,449.76 766,449.49 766.61,449.24 767.22,449 767.83,448.78 768.43,448.57 769.04,448.37 769.65,448.18 770.26,448 770.86,447.84 771.47,447.68 772.08,447.53 772.69,447.39 773.3,447.26 773.9,447.13 774.51,447.02 775.12,446.91 775.73,446.8 776.33,446.7 776.94,446.61 777.55,446.52 778.16,446.44 778.76,446.36 779.37,446.29 779.98,446.22 780.59,446.16 781.19,446.1 781.8,446.04 782.41,445.98 783.02,445.93 783.62,445.88 784.23,445.84 784.84,445.8 785.45,445.76 786.05,445.72 786.66,445.68 787.27,445.65 787.88,445.62 788.48,445.59 789.09,445.56 789.7,445.53 790.31,445.51 790.91,445.48 791.52,445.46 792.13,445.44 792.74,445.42 793.35,445.4 793.95,445.38 794.56,445.37 795.17,445.35 795.78,445.34 796.38,445.32 796.99,445.31 797.6,445.3 798.21,445.29 798.81,445.28 799.42,445.27 800.03,445.26 800.64,445.25 801.24,445.24 801.85,445.23 802.46,445.22 803.07,445.22 803.67,445.21 804.28,445.2 804.89,445.2 805.5,445.19 806.1,445.19 806.71,445.18 807.32,445.18 807.93,445.17 808.53,445.17 809.14,445.16 809.75,445.16 810.36,445.16 810.97,445.15 811.57,445.15 812.18,445.15 812.79,445.14 813.4,445.14 814,445.14 814.61,445.14 815.22,445.13 815.83,445.13 816.43,445.13 817.04,445.13 817.65,445.13 818.26,445.13 818.86,445.12 819.47,445.12 820.08,445.12 820.69,445.12 821.29,445.12 821.9,445.12 822.51,445.12 823.12,445.12 823.72,445.12 824.33,445.11 824.94,445.11 825.55,445.11 826.15,445.11 826.76,445.11 827.37,445.11 827.98,445.11 828.58,445.11 829.19,445.11 829.8,445.11 830.41,445.11 831.02,445.11 831.62,445.11 832.23,445.11 832.84,445.11 833.45,445.11 834.05,445.11 834.66,445.11 835.27,445.1 835.88,445.1 836.48,445.1 837.09,445.1 837.7,445.1 838.31,445.1 838.91,445.1 839.52,445.1 840.13,445.1 840.74,445.1 841.34,445.1 841.95,445.1 842.56,445.1 843.17,445.1 843.77,445.1 844.38,445.1 844.99,445.1 845.6,445.1 846.2,445.1 846.81,445.1 847.42,445.1 848.03,445.1 848.64,445.1 849.24,445.1 849.85,445.1 850.46,445.1 851.07,445.1 851.67,445.1 852.28,445.1 852.89,445.1 853.5,445.1 854.1,445.1 854.71,445.1 855.32,445.1 855.93,445.1 856.53,445.1 857.14,445.1 857.75,445.1 858.36,445.1 858.96,445.1 859.57,445.1 860.18,445.1 860.79,445.1 861.39,445.1 862,445.1 862.61,445.1 863.22,445.1 863.82,445.1 864.43,445.1 865.04,445.1 865.65,445.1 866.25,445.1 866.86,445.1 867.47,445.1 868.08,445.1 868.69,445.1 869.29,445.1 869.9,445.1 870.51,445.1 871.12,445.1 871.72,445.1 872.33,445.1 872.94,445.1 873.55,445.1 874.15,445.1 874.76,445.1 875.37,445.1 875.98,445.1 876.58,445.1 877.19,445.1 877.8,445.1 878.41,445.1 879.01,445.1 879.62,445.1 880.23,445.1 880.84,445.1 881.44,445.1 882.05,445.1 882.66,445.1 883.27,445.1 883.87,445.1 884.48,445.1 885.09,445.1 885.7,445.1 886.31,445.1 886.91,445.1 887.52,445.1 888.13,445.1 888.74,445.1 889.34,445.1 889.95,445.1 890.56,445.1 891.17,445.1 891.77,445.1 892.38,445.1 892.99,445.1 893.6,445.1 894.2,445.1 894.81,445.1 895.42,445.1 896.03,445.1 896.63,445.1 897.24,445.1 897.85,445.1 898.46,445.1 899.06,445.1 899.67,445.1 900.28,445.1 900.89,445.1 901.49,445.1 902.1,445.1 902.71,445.1 903.32,445.1 903.92,445.1 904.53,445.1 905.14,445.1 905.75,445.1 906.36,445.1 906.96,445.1 907.57,445.1 908.18,445.1 908.79,445.1 909.39,445.1 910,445.1 910.61,445.1 911.22,445.1 911.82,445.1 912.43,445.1 913.04,445.1 913.65,445.1 914.25,445.1 914.86,445.1 915.47,445.1 916.08,445.1 916.68,445.1 917.29,445.1 917.9,445.1 918.51,445.1 919.11,445.1 919.72,445.1 920.33,445.1 920.94,445.1 921.54,445.1 922.15,445.1 922.76,445.1 923.37,445.1 923.98,445.1 924.58,445.1 925.19,445.1 925.8,445.1 926.41,445.1 927.01,445.1 927.62,445.1 928.23,445.1 928.84,445.1 929.44,445.1 930.05,445.1 930.66,445.1 931.27,445.1 931.87,445.1 932.48,445.1 933.09,445.1 933.7,445.1 934.3,445.1 934.91,445.1 935.52,445.1 936.13,445.1 936.73,445.1 937.34,445.1 937.95,445.1 938.56,445.1 939.16,445.1 939.77,445.1 940.38,445.1 940.99,445.1 941.59,445.1 942.2,445.1 942.81,445.1 943.42,445.1 944.03,445.1 944.63,445.1 945.24,445.1 945.85,445.1 946.46,445.1 947.06,445.1 947.67,445.1 948.28,445.1 948.89,445.1 949.49,445.1 950.1,445.1 950.71,445.1 951.32,445.1 951.92,445.1 952.53,445.1 953.14,445.1 953.75,445.1 954.35,445.1 954.96,445.1 955.57,445.1 956.18,445.1 956.78,445.1 957.39,445.1 958,445.1 958.61,445.1 959.21,445.1 959.82,445.1 960.43,445.1 961.04,445.1 961.65,445.1 962.25,445.1 962.86,445.1 963.47,445.1 964.08,445.1 964.68,445.1 965.29,445.1 965.9,445.1 966.51,445.1 967.11,445.1 967.72,445.1 968.33,445.1 968.94,445.1 969.54,445.1 970.15,445.1 970.76,445.1 971.37,445.1 971.97,445.1 972.58,445.1 973.19,445.1 973.8,445.1 974.4,445.1 975.01,445.1 975.62,445.1 976.23,445.1 976.83,445.1 977.44,445.1 978.05,445.1 978.66,445.1 979.26,445.1 979.87,445.1 980.48,445.1 981.09,445.1 981.7,445.1 982.3,445.1 982.91,445.1 983.52,445.1 984.13,445.1 984.73,445.1 985.34,445.1 985.95,445.1 986.56,445.1 987.16,445.1 987.77,445.1 988.38,445.1 988.99,445.1 989.59,445.1 990.2,445.1 990.81,445.1 991.42,445.1 992.02,445.1 992.63,445.1 993.24,445.1 993.85,445.1 994.45,445.1 995.06,445.1 995.67,445.1 996.28,445.1 996.88,445.1 997.49,445.1 998.1,445.1"/>
</g>
<g class="panel">
<g class="ax">
<path d="M94.9 865.25 V1125"/>
<path d="M86.8 1116.9 H469.2"/>
<path d="M86.8 1066.79 H94.9 M86.8 1016.68 H94.9 M86.8 966.57 H94.9 M86.8 916.46 H94.9 M86.8 866.35 H94.9 M188.2 1116.9 V1125 M281.5 1116.9 V1125 M374.8 1116.9 V1125 M468.1 1116.9 V1125"/>
</g>
<g class="tl" text-anchor="end">
<text transform="translate(85.8 1123.4) scale(0.88 1)">0</text>
<text transform="translate(85.8 1073.29) scale(0.88 1)">20</text>
<text transform="translate(85.8 1023.18) scale(0.88 1)">40</text>
<text transform="translate(85.8 973.07) scale(0.88 1)">60</text>
<text transform="translate(85.8 922.96) scale(0.88 1)">80</text>
<text transform="translate(85.8 872.85) scale(0.88 1)">100</text>
</g>
<g class="tl" text-anchor="middle">
<text transform="translate(94.9 1144.3) scale(0.88 1)">1.5</text>
<text transform="translate(188.2 1144.3) scale(0.88 1)">2.0</text>
<text transform="translate(281.5 1144.3) scale(0.88 1)">2.5</text>
<text transform="translate(374.8 1144.3) scale(0.88 1)">3.0</text>
<text transform="translate(468.1 1144.3) scale(0.88 1)">3.5</text>
</g>
<text class="at" x="16" y="997.33">L%</text>
<text class="at" text-anchor="middle" x="281.4" y="1171.5">Log [C]</text>
<text class="pl" text-anchor="middle" x="278.8" y="1228.4">e</text>
<circle class="mg" cx="507.1" cy="883.55" r="4.8"/>
<rect class="mr" x="502.15" y="907.3" width="9.9" height="9.9"/>
<text class="lg" x="535" y="889.85">24h</text>
<text class="lg" x="535" y="918.55">48h</text>
<path class="eg" d="M345.45 1067.24 V1092.3 M339.45 1067.24 H351.45 M339.45 1092.3 H351.45 M374.35 916.91 V967.02 M368.35 916.91 H380.35 M368.35 967.02 H380.35"/>
<circle class="mg" cx="131.58" cy="1117.35" r="4.8"/>
<circle class="mg" cx="187.75" cy="1117.35" r="4.8"/>
<circle class="mg" cx="243.92" cy="1117.35" r="4.8"/>
<circle class="mg" cx="300.09" cy="1117.35" r="4.8"/>
<circle class="mg" cx="345.45" cy="1079.77" r="4.8"/>
<circle class="mg" cx="374.35" cy="941.97" r="4.8"/>
<path class="er" d="M187.75 1092.3 V1117.35 M181.75 1092.3 H193.75 M181.75 1117.35 H193.75 M300.09 1042.19 V1067.24 M294.09 1042.19 H306.09 M294.09 1067.24 H306.09"/>
<rect class="mr" x="126.63" y="1112.4" width="9.9" height="9.9"/>
<rect class="mr" x="182.8" y="1099.87" width="9.9" height="9.9"/>
<rect class="mr" x="238.97" y="1112.4" width="9.9" height="9.9"/>
<rect class="mr" x="295.14" y="1049.76" width="9.9" height="9.9"/>
<rect class="mr" x="340.5" y="861.85" width="9.9" height="9.9"/>
<rect class="mr" x="369.4" y="861.85" width="9.9" height="9.9"/>
<polyline class="cg" points="132.03,1116.9 132.63,1116.9 133.24,1116.9 133.85,1116.9 134.46,1116.9 135.06,1116.9 135.67,1116.9 136.28,1116.9 136.88,1116.9 137.49,1116.9 138.1,1116.9 138.7,1116.9 139.31,1116.9 139.92,1116.9 140.52,1116.9 141.13,1116.9 141.74,1116.9 142.35,1116.9 142.95,1116.9 143.56,1116.9 144.17,1116.9 144.77,1116.9 145.38,1116.9 145.99,1116.9 146.59,1116.9 147.2,1116.9 147.81,1116.9 148.41,1116.9 149.02,1116.9 149.63,1116.9 150.24,1116.9 150.84,1116.9 151.45,1116.9 152.06,1116.9 152.66,1116.9 153.27,1116.9 153.88,1116.9 154.48,1116.9 155.09,1116.9 155.7,1116.9 156.31,1116.9 156.91,1116.9 157.52,1116.9 158.13,1116.9 158.73,1116.9 159.34,1116.9 159.95,1116.9 160.55,1116.9 161.16,1116.9 161.77,1116.9 162.37,1116.9 162.98,1116.9 163.59,1116.9 164.2,1116.9 164.8,1116.9 165.41,1116.9 166.02,1116.9 166.62,1116.9 167.23,1116.9 167.84,1116.9 168.44,1116.9 169.05,1116.9 169.66,1116.9 170.26,1116.9 170.87,1116.9 171.48,1116.9 172.09,1116.9 172.69,1116.9 173.3,1116.9 173.91,1116.9 174.51,1116.9 175.12,1116.9 175.73,1116.9 176.33,1116.9 176.94,1116.9 177.55,1116.9 178.15,1116.9 178.76,1116.9 179.37,1116.9 179.98,1116.9 180.58,1116.9 181.19,1116.9 181.8,1116.9 182.4,1116.9 183.01,1116.9 183.62,1116.9 184.22,1116.9 184.83,1116.9 185.44,1116.9 186.04,1116.9 186.65,1116.9 187.26,1116.9 187.87,1116.9 188.47,1116.9 189.08,1116.9 189.69,1116.9 190.29,1116.9 190.9,1116.9 191.51,1116.9 192.11,1116.9 192.72,1116.9 193.33,1116.9 193.93,1116.9 194.54,1116.9 195.15,1116.9 195.76,1116.9 196.36,1116.9 196.97,1116.9 197.58,1116.9 198.18,1116.9 198.79,1116.9 199.4,1116.9 200,1116.9 200.61,1116.9 201.22,1116.9 201.82,1116.9 202.43,1116.9 203.04,1116.9 203.65,1116.9 204.25,1116.9 204.86,1116.9 205.47,1116.9 206.07,1116.9 206.68,1116.9 207.29,1116.9 207.89,1116.9 208.5,1116.9 209.11,1116.9 209.71,1116.9 210.32,1116.9 210.93,1116.9 211.54,1116.9 212.14,1116.9 212.75,1116.9 213.36,1116.9 213.96,1116.9 214.57,1116.9 215.18,1116.9 215.78,1116.9 216.39,1116.9 217,1116.9 217.61,1116.9 218.21,1116.9 218.82,1116.9 219.43,1116.9 220.03,1116.9 220.64,1116.9 221.25,1116.9 221.85,1116.9 222.46,1116.9 223.07,1116.9 223.67,1116.9 224.28,1116.9 224.89,1116.9 225.5,1116.9 226.1,1116.9 226.71,1116.9 227.32,1116.9 227.92,1116.9 228.53,1116.9 229.14,1116.9 229.74,1116.9 230.35,1116.9 230.96,1116.9 231.56,1116.9 232.17,1116.9 232.78,1116.9 233.39,1116.9 233.99,1116.9 234.6,1116.9 235.21,1116.9 235.81,1116.9 236.42,1116.9 237.03,1116.9 237.63,1116.9 238.24,1116.9 238.85,1116.9 239.45,1116.9 240.06,1116.9 240.67,1116.9 241.28,1116.9 241.88,1116.9 242.49,1116.9 243.1,1116.9 243.7,1116.9 244.31,1116.9 244.92,1116.9 245.52,1116.9 246.13,1116.9 246.74,1116.9 247.34,1116.89 247.95,1116.89 248.56,1116.89 249.17,1116.89 249.77,1116.89 250.38,1116.89 250.99,1116.89 251.59,1116.89 252.2,1116.89 252.81,1116.89 253.41,1116.89 254.02,1116.89 254.63,1116.89 255.23,1116.89 255.84,1116.89 256.45,1116.89 257.06,1116.89 257.66,1116.89 258.27,1116.89 258.88,1116.89 259.48,1116.88 260.09,1116.88 260.7,1116.88 261.3,1116.88 261.91,1116.88 262.52,1116.88 263.12,1116.88 263.73,1116.88 264.34,1116.88 264.95,1116.87 265.55,1116.87 266.16,1116.87 266.77,1116.87 267.37,1116.87 267.98,1116.87 268.59,1116.86 269.19,1116.86 269.8,1116.86 270.41,1116.86 271.01,1116.86 271.62,1116.85 272.23,1116.85 272.84,1116.85 273.44,1116.85 274.05,1116.84 274.66,1116.84 275.26,1116.84 275.87,1116.83 276.48,1116.83 277.08,1116.82 277.69,1116.82 278.3,1116.81 278.9,1116.81 279.51,1116.8 280.12,1116.8 280.73,1116.79 281.33,1116.79 281.94,1116.78 282.55,1116.77 283.15,1116.77 283.76,1116.76 284.37,1116.75 284.97,1116.74 285.58,1116.73 286.19,1116.73 286.8,1116.72 287.4,1116.7 288.01,1116.69 288.62,1116.68 289.22,1116.67 289.83,1116.66 290.44,1116.64 291.04,1116.63 291.65,1116.61 292.26,1116.6 292.86,1116.58 293.47,1116.56 294.08,1116.54 294.69,1116.52 295.29,1116.5 295.9,1116.48 296.51,1116.45 297.11,1116.43 297.72,1116.4 298.33,1116.37 298.93,1116.34 299.54,1116.31 300.15,1116.28 300.75,1116.24 301.36,1116.2 301.97,1116.16 302.58,1116.12 303.18,1116.08 303.79,1116.03 304.4,1115.98 305,1115.93 305.61,1115.87 306.22,1115.82 306.82,1115.75 307.43,1115.69 308.04,1115.62 308.64,1115.55 309.25,1115.47 309.86,1115.39 310.47,1115.3 311.07,1115.21 311.68,1115.12 312.29,1115.02 312.89,1114.91 313.5,1114.8 314.11,1114.68 314.71,1114.56 315.32,1114.42 315.93,1114.28 316.53,1114.14 317.14,1113.98 317.75,1113.82 318.36,1113.64 318.96,1113.46 319.57,1113.27 320.18,1113.06 320.78,1112.85 321.39,1112.62 322,1112.38 322.6,1112.13 323.21,1111.86 323.82,1111.58 324.42,1111.28 325.03,1110.97 325.64,1110.64 326.25,1110.29 326.85,1109.93 327.46,1109.54 328.07,1109.14 328.67,1108.71 329.28,1108.26 329.89,1107.78 330.49,1107.28 331.1,1106.76 331.71,1106.2 332.31,1105.62 332.92,1105.01 333.53,1104.37 334.14,1103.69 334.74,1102.98 335.35,1102.23 335.96,1101.45 336.56,1100.62 337.17,1099.76 337.78,1098.85 338.38,1097.9 338.99,1096.91 339.6,1095.86 340.2,1094.77 340.81,1093.63 341.42,1092.43 342.03,1091.18 342.63,1089.87 343.24,1088.51 343.85,1087.08 344.45,1085.59 345.06,1084.04 345.67,1082.43 346.27,1080.75 346.88,1079 347.49,1077.18 348.1,1075.29 348.7,1073.34 349.31,1071.3 349.92,1069.2 350.52,1067.02 351.13,1064.77 351.74,1062.45 352.34,1060.05 352.95,1057.58 353.56,1055.03 354.16,1052.41 354.77,1049.72 355.38,1046.96 355.99,1044.14 356.59,1041.24 357.2,1038.28 357.81,1035.26 358.41,1032.18 359.02,1029.05 359.63,1025.86 360.23,1022.63 360.84,1019.35 361.45,1016.02 362.05,1012.67 362.66,1009.28 363.27,1005.86 363.88,1002.43 364.48,998.97 365.09,995.51 365.7,992.04 366.3,988.57 366.91,985.1 367.52,981.65 368.12,978.21 368.73,974.79 369.34,971.39 369.94,968.03 370.55,964.7 371.16,961.4 371.77,958.16 372.37,954.96 372.98,951.81 373.59,948.72 374.19,945.68 374.8,942.71"/>
<polyline class="cr" points="132.03,1116.9 132.63,1116.9 133.24,1116.9 133.85,1116.9 134.46,1116.9 135.06,1116.9 135.67,1116.9 136.28,1116.9 136.88,1116.9 137.49,1116.9 138.1,1116.9 138.7,1116.9 139.31,1116.9 139.92,1116.9 140.52,1116.9 141.13,1116.9 141.74,1116.9 142.35,1116.9 142.95,1116.9 143.56,1116.9 144.17,1116.9 144.77,1116.9 145.38,1116.9 145.99,1116.9 146.59,1116.9 147.2,1116.9 147.81,1116.9 148.41,1116.9 149.02,1116.9 149.63,1116.9 150.24,1116.9 150.84,1116.9 151.45,1116.9 152.06,1116.9 152.66,1116.9 153.27,1116.9 153.88,1116.9 154.48,1116.9 155.09,1116.9 155.7,1116.9 156.31,1116.9 156.91,1116.9 157.52,1116.9 158.13,1116.9 158.73,1116.9 159.34,1116.9 159.95,1116.9 160.55,1116.9 161.16,1116.9 161.77,1116.9 162.37,1116.9 162.98,1116.9 163.59,1116.9 164.2,1116.9 164.8,1116.9 165.41,1116.9 166.02,1116.9 166.62,1116.9 167.23,1116.9 167.84,1116.9 168.44,1116.9 169.05,1116.9 169.66,1116.9 170.26,1116.9 170.87,1116.9 171.48,1116.9 172.09,1116.9 172.69,1116.9 173.3,1116.9 173.91,1116.9 174.51,1116.9 175.12,1116.9 175.73,1116.9 176.33,1116.9 176.94,1116.9 177.55,1116.9 178.15,1116.9 178.76,1116.9 179.37,1116.9 179.98,1116.9 180.58,1116.9 181.19,1116.9 181.8,1116.9 182.4,1116.9 183.01,1116.9 183.62,1116.9 184.22,1116.9 184.83,1116.9 185.44,1116.9 186.04,1116.9 186.65,1116.9 187.26,1116.9 187.87,1116.9 188.47,1116.9 189.08,1116.9 189.69,1116.9 190.29,1116.9 190.9,1116.9 191.51,1116.9 192.11,1116.9 192.72,1116.9 193.33,1116.9 193.93,1116.9 194.54,1116.9 195.15,1116.9 195.76,1116.9 196.36,1116.9 196.97,1116.9 197.58,1116.9 198.18,1116.9 198.79,1116.9 199.4,1116.9 200,1116.9 200.61,1116.9 201.22,1116.9 201.82,1116.9 202.43,1116.9 203.04,1116.9 203.65,1116.9 204.25,1116.9 204.86,1116.9 205.47,1116.9 206.07,1116.9 206.68,1116.9 207.29,1116.9 207.89,1116.9 208.5,1116.9 209.11,1116.9 209.71,1116.9 210.32,1116.9 210.93,1116.9 211.54,1116.9 212.14,1116.9 212.75,1116.9 213.36,1116.9 213.96,1116.9 214.57,1116.9 215.18,1116.9 215.78,1116.9 216.39,1116.9 217,1116.9 217.61,1116.9 218.21,1116.9 218.82,1116.9 219.43,1116.9 220.03,1116.9 220.64,1116.9 221.25,1116.9 221.85,1116.9 222.46,1116.9 223.07,1116.9 223.67,1116.9 224.28,1116.9 224.89,1116.9 225.5,1116.9 226.1,1116.9 226.71,1116.9 227.32,1116.9 227.92,1116.9 228.53,1116.9 229.14,1116.9 229.74,1116.9 230.35,1116.9 230.96,1116.9 231.56,1116.9 232.17,1116.9 232.78,1116.9 233.39,1116.9 233.99,1116.9 234.6,1116.9 235.21,1116.9 235.81,1116.9 236.42,1116.9 237.03,1116.9 237.63,1116.9 238.24,1116.9 238.85,1116.9 239.45,1116.9 240.06,1116.9 240.67,1116.9 241.28,1116.9 241.88,1116.9 242.49,1116.9 243.1,1116.9 243.7,1116.9 244.31,1116.9 244.92,1116.9 245.52,1116.9 246.13,1116.9 246.74,1116.9 247.34,1116.9 247.95,1116.9 248.56,1116.9 249.17,1116.9 249.77,1116.9 250.38,1116.9 250.99,1116.9 251.59,1116.9 252.2,1116.9 252.81,1116.9 253.41,1116.9 254.02,1116.9 254.63,1116.9 255.23,1116.9 255.84,1116.9 256.45,1116.9 257.06,1116.9 257.66,1116.9 258.27,1116.9 258.88,1116.9 259.48,1116.9 260.09,1116.9 260.7,1116.9 261.3,1116.9 261.91,1116.9 262.52,1116.9 263.12,1116.9 263.73,1116.9 264.34,1116.9 264.95,1116.9 265.55,1116.9 266.16,1116.9 266.77,1116.9 267.37,1116.9 267.98,1116.9 268.59,1116.9 269.19,1116.9 269.8,1116.9 270.41,1116.9 271.01,1116.9 271.62,1116.9 272.23,1116.9 272.84,1116.9 273.44,1116.9 274.05,1116.9 274.66,1116.9 275.26,1116.9 275.87,1116.9 276.48,1116.9 277.08,1116.9 277.69,1116.9 278.3,1116.9 278.9,1116.9 279.51,1116.9 280.12,1116.9 280.73,1116.9 281.33,1116.9 281.94,1116.9 282.55,1116.9 283.15,1116.89 283.76,1116.89 284.37,1116.89 284.97,1116.89 285.58,1116.88 286.19,1116.87 286.8,1116.86 287.4,1116.84 288.01,1116.82 288.62,1116.79 289.22,1116.74 289.83,1116.68 290.44,1116.59 291.04,1116.47 291.65,1116.3 292.26,1116.06 292.86,1115.72 293.47,1115.26 294.08,1114.6 294.69,1113.69 295.29,1112.43 295.9,1110.69 296.51,1108.28 297.11,1104.99 297.72,1100.53 298.33,1094.55 298.93,1086.68 299.54,1076.52 300.15,1063.77 300.75,1048.3 301.36,1030.31 301.97,1010.36 302.58,989.4 303.18,968.55 303.79,948.95 304.4,931.46 305,916.56 305.61,904.38 306.22,894.73 306.82,887.29 307.43,881.66 308.04,877.48 308.64,874.4 309.25,872.15 309.86,870.52 310.47,869.34 311.07,868.49 311.68,867.88 312.29,867.45 312.89,867.13 313.5,866.91 314.11,866.75 314.71,866.64 315.32,866.55 315.93,866.5 316.53,866.45 317.14,866.42 317.75,866.4 318.36,866.39 318.96,866.38 319.57,866.37 320.18,866.36 320.78,866.36 321.39,866.36 322,866.36 322.6,866.35 323.21,866.35 323.82,866.35 324.42,866.35 325.03,866.35 325.64,866.35 326.25,866.35 326.85,866.35 327.46,866.35 328.07,866.35 328.67,866.35 329.28,866.35 329.89,866.35 330.49,866.35 331.1,866.35 331.71,866.35 332.31,866.35 332.92,866.35 333.53,866.35 334.14,866.35 334.74,866.35 335.35,866.35 335.96,866.35 336.56,866.35 337.17,866.35 337.78,866.35 338.38,866.35 338.99,866.35 339.6,866.35 340.2,866.35 340.81,866.35 341.42,866.35 342.03,866.35 342.63,866.35 343.24,866.35 343.85,866.35 344.45,866.35 345.06,866.35 345.67,866.35 346.27,866.35 346.88,866.35 347.49,866.35 348.1,866.35 348.7,866.35 349.31,866.35 349.92,866.35 350.52,866.35 351.13,866.35 351.74,866.35 352.34,866.35 352.95,866.35 353.56,866.35 354.16,866.35 354.77,866.35 355.38,866.35 355.99,866.35 356.59,866.35 357.2,866.35 357.81,866.35 358.41,866.35 359.02,866.35 359.63,866.35 360.23,866.35 360.84,866.35 361.45,866.35 362.05,866.35 362.66,866.35 363.27,866.35 363.88,866.35 364.48,866.35 365.09,866.35 365.7,866.35 366.3,866.35 366.91,866.35 367.52,866.35 368.12,866.35 368.73,866.35 369.34,866.35 369.94,866.35 370.55,866.35 371.16,866.35 371.77,866.35 372.37,866.35 372.98,866.35 373.59,866.35 374.19,866.35 374.8,866.35"/>
</g>
<g class="panel">
<g class="ax">
<path d="M717.9 865.25 V1125"/>
<path d="M709.8 1116.9 H1092.6"/>
<path d="M709.8 1066.79 H717.9 M709.8 1016.68 H717.9 M709.8 966.57 H717.9 M709.8 916.46 H717.9 M709.8 866.35 H717.9 M811.3 1116.9 V1125 M904.7 1116.9 V1125 M998.1 1116.9 V1125 M1091.5 1116.9 V1125"/>
</g>
<g class="tl" text-anchor="end">
<text transform="translate(708.8 1123.4) scale(0.88 1)">0</text>
<text transform="translate(708.8 1073.29) scale(0.88 1)">20</text>
<text transform="translate(708.8 1023.18) scale(0.88 1)">40</text>
<text transform="translate(708.8 973.07) scale(0.88 1)">60</text>
<text transform="translate(708.8 922.96) scale(0.88 1)">80</text>
<text transform="translate(708.8 872.85) scale(0.88 1)">100</text>
</g>
<g class="tl" text-anchor="middle">
<text transform="translate(717.9 1144.3) scale(0.88 1)">1.5</text>
<text transform="translate(811.3 1144.3) scale(0.88 1)">2.0</text>
<text transform="translate(904.7 1144.3) scale(0.88 1)">2.5</text>
<text transform="translate(998.1 1144.3) scale(0.88 1)">3.0</text>
<text transform="translate(1091.5 1144.3) scale(0.88 1)">3.5</text>
</g>
<text class="at" x="639" y="998.03">L%</text>
<text class="at" text-anchor="middle" x="904.4" y="1171.5">Log [C]</text>
<text class="pl" text-anchor="middle" x="897.4" y="1229.2">f</text>
<circle class="mg" cx="1130.1" cy="883.55" r="4.8"/>
<rect class="mr" x="1125.15" y="907.3" width="9.9" height="9.9"/>
<text class="lg" x="1158" y="889.85">24h</text>
<text class="lg" x="1158" y="918.55">48h</text>
<path class="eg" d="M810.85 1092.3 V1117.35 M804.85 1092.3 H816.85 M804.85 1117.35 H816.85 M923.31 1092.3 V1117.35 M917.31 1092.3 H929.31 M917.31 1117.35 H929.31 M968.71 1067.24 V1117.35 M962.71 1067.24 H974.71 M962.71 1117.35 H974.71 M997.65 941.97 V1017.13 M991.65 941.97 H1003.65 M991.65 1017.13 H1003.65"/>
<circle class="mg" cx="754.62" cy="1117.35" r="4.8"/>
<circle class="mg" cx="810.85" cy="1104.82" r="4.8"/>
<circle class="mg" cx="867.08" cy="1117.35" r="4.8"/>
<circle class="mg" cx="923.31" cy="1104.82" r="4.8"/>
<circle class="mg" cx="968.71" cy="1092.3" r="4.8"/>
<circle class="mg" cx="997.65" cy="979.55" r="4.8"/>
<path class="er" d="M754.62 1067.24 V1117.35 M748.62 1067.24 H760.62 M748.62 1117.35 H760.62 M810.85 1042.19 V1092.3 M804.85 1042.19 H816.85 M804.85 1092.3 H816.85 M867.08 1092.3 V1117.35 M861.08 1092.3 H873.08 M861.08 1117.35 H873.08 M923.31 1042.19 V1092.3 M917.31 1042.19 H929.31 M917.31 1092.3 H929.31 M968.71 866.8 V916.91 M962.71 866.8 H974.71 M962.71 916.91 H974.71"/>
<rect class="mr" x="749.67" y="1087.35" width="9.9" height="9.9"/>
<rect class="mr" x="805.9" y="1062.29" width="9.9" height="9.9"/>
<rect class="mr" x="862.13" y="1099.87" width="9.9" height="9.9"/>
<rect class="mr" x="918.36" y="1062.29" width="9.9" height="9.9"/>
<rect class="mr" x="963.76" y="886.91" width="9.9" height="9.9"/>
<rect class="mr" x="992.7" y="861.85" width="9.9" height="9.9"/>
<polyline class="cg" points="755.07,1116.9 755.68,1116.9 756.28,1116.9 756.89,1116.9 757.5,1116.9 758.11,1116.9 758.71,1116.9 759.32,1116.9 759.93,1116.9 760.54,1116.9 761.14,1116.9 761.75,1116.9 762.36,1116.9 762.97,1116.9 763.57,1116.9 764.18,1116.9 764.79,1116.9 765.4,1116.9 766,1116.9 766.61,1116.9 767.22,1116.9 767.83,1116.9 768.43,1116.9 769.04,1116.9 769.65,1116.9 770.26,1116.9 770.86,1116.9 771.47,1116.9 772.08,1116.9 772.69,1116.9 773.3,1116.9 773.9,1116.9 774.51,1116.9 775.12,1116.9 775.73,1116.9 776.33,1116.9 776.94,1116.9 777.55,1116.9 778.16,1116.9 778.76,1116.9 779.37,1116.9 779.98,1116.9 780.59,1116.9 781.19,1116.9 781.8,1116.9 782.41,1116.9 783.02,1116.9 783.62,1116.9 784.23,1116.9 784.84,1116.9 785.45,1116.9 786.05,1116.9 786.66,1116.9 787.27,1116.9 787.88,1116.9 788.48,1116.9 789.09,1116.9 789.7,1116.9 790.31,1116.9 790.91,1116.9 791.52,1116.9 792.13,1116.9 792.74,1116.9 793.35,1116.9 793.95,1116.9 794.56,1116.9 795.17,1116.9 795.78,1116.9 796.38,1116.9 796.99,1116.9 797.6,1116.9 798.21,1116.9 798.81,1116.9 799.42,1116.9 800.03,1116.9 800.64,1116.9 801.24,1116.9 801.85,1116.9 802.46,1116.9 803.07,1116.9 803.67,1116.9 804.28,1116.9 804.89,1116.9 805.5,1116.9 806.1,1116.9 806.71,1116.9 807.32,1116.9 807.93,1116.9 808.53,1116.9 809.14,1116.9 809.75,1116.9 810.36,1116.9 810.97,1116.9 811.57,1116.9 812.18,1116.9 812.79,1116.9 813.4,1116.9 814,1116.9 814.61,1116.9 815.22,1116.9 815.83,1116.9 816.43,1116.9 817.04,1116.9 817.65,1116.9 818.26,1116.9 818.86,1116.9 819.47,1116.9 820.08,1116.9 820.69,1116.9 821.29,1116.9 821.9,1116.9 822.51,1116.9 823.12,1116.9 823.72,1116.9 824.33,1116.9 824.94,1116.9 825.55,1116.9 826.15,1116.9 826.76,1116.9 827.37,1116.9 827.98,1116.9 828.58,1116.9 829.19,1116.9 829.8,1116.9 830.41,1116.9 831.02,1116.9 831.62,1116.9 832.23,1116.9 832.84,1116.9 833.45,1116.9 834.05,1116.9 834.66,1116.9 835.27,1116.9 835.88,1116.9 836.48,1116.9 837.09,1116.9 837.7,1116.9 838.31,1116.9 838.91,1116.9 839.52,1116.9 840.13,1116.9 840.74,1116.9 841.34,1116.9 841.95,1116.9 842.56,1116.9 843.17,1116.9 843.77,1116.9 844.38,1116.9 844.99,1116.9 845.6,1116.9 846.2,1116.9 846.81,1116.9 847.42,1116.9 848.03,1116.9 848.64,1116.9 849.24,1116.9 849.85,1116.9 850.46,1116.9 851.07,1116.9 851.67,1116.9 852.28,1116.9 852.89,1116.9 853.5,1116.9 854.1,1116.9 854.71,1116.9 855.32,1116.9 855.93,1116.9 856.53,1116.9 857.14,1116.9 857.75,1116.9 858.36,1116.9 858.96,1116.9 859.57,1116.9 860.18,1116.9 860.79,1116.9 861.39,1116.89 862,1116.89 862.61,1116.89 863.22,1116.89 863.82,1116.89 864.43,1116.89 865.04,1116.89 865.65,1116.89 866.25,1116.89 866.86,1116.89 867.47,1116.89 868.08,1116.89 868.69,1116.89 869.29,1116.89 869.9,1116.89 870.51,1116.89 871.12,1116.89 871.72,1116.89 872.33,1116.89 872.94,1116.89 873.55,1116.89 874.15,1116.89 874.76,1116.89 875.37,1116.88 875.98,1116.88 876.58,1116.88 877.19,1116.88 877.8,1116.88 878.41,1116.88 879.01,1116.88 879.62,1116.88 880.23,1116.88 880.84,1116.88 881.44,1116.87 882.05,1116.87 882.66,1116.87 883.27,1116.87 883.87,1116.87 884.48,1116.87 885.09,1116.87 885.7,1116.86 886.31,1116.86 886.91,1116.86 887.52,1116.86 888.13,1116.86 888.74,1116.85 889.34,1116.85 889.95,1116.85 890.56,1116.85 891.17,1116.84 891.77,1116.84 892.38,1116.84 892.99,1116.84 893.6,1116.83 894.2,1116.83 894.81,1116.83 895.42,1116.82 896.03,1116.82 896.63,1116.81 897.24,1116.81 897.85,1116.81 898.46,1116.8 899.06,1116.8 899.67,1116.79 900.28,1116.79 900.89,1116.78 901.49,1116.77 902.1,1116.77 902.71,1116.76 903.32,1116.75 903.92,1116.75 904.53,1116.74 905.14,1116.73 905.75,1116.72 906.36,1116.71 906.96,1116.7 907.57,1116.69 908.18,1116.68 908.79,1116.67 909.39,1116.66 910,1116.65 910.61,1116.64 911.22,1116.62 911.82,1116.61 912.43,1116.6 913.04,1116.58 913.65,1116.57 914.25,1116.55 914.86,1116.53 915.47,1116.51 916.08,1116.49 916.68,1116.47 917.29,1116.45 917.9,1116.43 918.51,1116.41 919.11,1116.38 919.72,1116.36 920.33,1116.33 920.94,1116.3 921.54,1116.27 922.15,1116.24 922.76,1116.21 923.37,1116.17 923.98,1116.14 924.58,1116.1 925.19,1116.06 925.8,1116.02 926.41,1115.97 927.01,1115.93 927.62,1115.88 928.23,1115.83 928.84,1115.77 929.44,1115.72 930.05,1115.66 930.66,1115.6 931.27,1115.53 931.87,1115.46 932.48,1115.39 933.09,1115.32 933.7,1115.24 934.3,1115.16 934.91,1115.07 935.52,1114.98 936.13,1114.89 936.73,1114.79 937.34,1114.68 937.95,1114.57 938.56,1114.46 939.16,1114.34 939.77,1114.21 940.38,1114.08 940.99,1113.94 941.59,1113.79 942.2,1113.64 942.81,1113.48 943.42,1113.31 944.03,1113.14 944.63,1112.95 945.24,1112.76 945.85,1112.55 946.46,1112.34 947.06,1112.12 947.67,1111.88 948.28,1111.64 948.89,1111.38 949.49,1111.11 950.1,1110.83 950.71,1110.54 951.32,1110.23 951.92,1109.9 952.53,1109.57 953.14,1109.21 953.75,1108.84 954.35,1108.45 954.96,1108.04 955.57,1107.62 956.18,1107.17 956.78,1106.71 957.39,1106.22 958,1105.71 958.61,1105.18 959.21,1104.63 959.82,1104.04 960.43,1103.44 961.04,1102.8 961.65,1102.14 962.25,1101.45 962.86,1100.73 963.47,1099.98 964.08,1099.19 964.68,1098.38 965.29,1097.52 965.9,1096.63 966.51,1095.71 967.11,1094.75 967.72,1093.74 968.33,1092.7 968.94,1091.61 969.54,1090.49 970.15,1089.31 970.76,1088.09 971.37,1086.83 971.97,1085.52 972.58,1084.16 973.19,1082.75 973.8,1081.28 974.4,1079.77 975.01,1078.21 975.62,1076.59 976.23,1074.91 976.83,1073.18 977.44,1071.4 978.05,1069.56 978.66,1067.66 979.26,1065.7 979.87,1063.69 980.48,1061.62 981.09,1059.5 981.7,1057.32 982.3,1055.08 982.91,1052.78 983.52,1050.43 984.13,1048.03 984.73,1045.57 985.34,1043.06 985.95,1040.5 986.56,1037.89 987.16,1035.23 987.77,1032.53 988.38,1029.79 988.99,1027 989.59,1024.18 990.2,1021.31 990.81,1018.42 991.42,1015.5 992.02,1012.54 992.63,1009.57 993.24,1006.57 993.85,1003.56 994.45,1000.53 995.06,997.49 995.67,994.45 996.28,991.4 996.88,988.35 997.49,985.3 998.1,982.27"/>
<polyline class="cr" points="755.07,1116.9 755.68,1116.9 756.28,1116.9 756.89,1116.9 757.5,1116.9 758.11,1116.9 758.71,1116.9 759.32,1116.9 759.93,1116.9 760.54,1116.9 761.14,1116.9 761.75,1116.9 762.36,1116.9 762.97,1116.9 763.57,1116.9 764.18,1116.9 764.79,1116.9 765.4,1116.9 766,1116.9 766.61,1116.9 767.22,1116.9 767.83,1116.9 768.43,1116.9 769.04,1116.9 769.65,1116.9 770.26,1116.9 770.86,1116.9 771.47,1116.9 772.08,1116.9 772.69,1116.9 773.3,1116.9 773.9,1116.9 774.51,1116.9 775.12,1116.9 775.73,1116.9 776.33,1116.9 776.94,1116.9 777.55,1116.9 778.16,1116.9 778.76,1116.9 779.37,1116.9 779.98,1116.9 780.59,1116.9 781.19,1116.9 781.8,1116.9 782.41,1116.9 783.02,1116.9 783.62,1116.9 784.23,1116.9 784.84,1116.9 785.45,1116.9 786.05,1116.9 786.66,1116.9 787.27,1116.9 787.88,1116.9 788.48,1116.9 789.09,1116.9 789.7,1116.9 790.31,1116.9 790.91,1116.9 791.52,1116.9 792.13,1116.9 792.74,1116.9 793.35,1116.9 793.95,1116.9 794.56,1116.9 795.17,1116.9 795.78,1116.9 796.38,1116.9 796.99,1116.9 797.6,1116.9 798.21,1116.89 798.81,1116.89 799.42,1116.89 800.03,1116.89 800.64,1116.89 801.24,1116.89 801.85,1116.89 802.46,1116.89 803.07,1116.89 803.67,1116.89 804.28,1116.89 804.89,1116.89 805.5,1116.89 806.1,1116.89 806.71,1116.89 807.32,1116.89 807.93,1116.89 808.53,1116.89 809.14,1116.89 809.75,1116.89 810.36,1116.89 810.97,1116.89 811.57,1116.89 812.18,1116.89 812.79,1116.88 813.4,1116.88 814,1116.88 814.61,1116.88 815.22,1116.88 815.83,1116.88 816.43,1116.88 817.04,1116.88 817.65,1116.88 818.26,1116.88 818.86,1116.88 819.47,1116.88 820.08,1116.87 820.69,1116.87 821.29,1116.87 821.9,1116.87 822.51,1116.87 823.12,1116.87 823.72,1116.87 824.33,1116.86 824.94,1116.86 825.55,1116.86 826.15,1116.86 826.76,1116.86 827.37,1116.85 827.98,1116.85 828.58,1116.85 829.19,1116.85 829.8,1116.85 830.41,1116.84 831.02,1116.84 831.62,1116.84 832.23,1116.84 832.84,1116.83 833.45,1116.83 834.05,1116.83 834.66,1116.82 835.27,1116.82 835.88,1116.81 836.48,1116.81 837.09,1116.81 837.7,1116.8 838.31,1116.8 838.91,1116.79 839.52,1116.79 840.13,1116.78 840.74,1116.78 841.34,1116.77 841.95,1116.77 842.56,1116.76 843.17,1116.75 843.77,1116.75 844.38,1116.74 844.99,1116.73 845.6,1116.72 846.2,1116.71 846.81,1116.71 847.42,1116.7 848.03,1116.69 848.64,1116.68 849.24,1116.67 849.85,1116.66 850.46,1116.64 851.07,1116.63 851.67,1116.62 852.28,1116.61 852.89,1116.59 853.5,1116.58 854.1,1116.56 854.71,1116.55 855.32,1116.53 855.93,1116.51 856.53,1116.5 857.14,1116.48 857.75,1116.46 858.36,1116.44 858.96,1116.42 859.57,1116.39 860.18,1116.37 860.79,1116.35 861.39,1116.32 862,1116.29 862.61,1116.26 863.22,1116.23 863.82,1116.2 864.43,1116.17 865.04,1116.14 865.65,1116.1 866.25,1116.06 866.86,1116.03 867.47,1115.98 868.08,1115.94 868.69,1115.9 869.29,1115.85 869.9,1115.8 870.51,1115.75 871.12,1115.7 871.72,1115.64 872.33,1115.58 872.94,1115.52 873.55,1115.46 874.15,1115.39 874.76,1115.32 875.37,1115.25 875.98,1115.17 876.58,1115.09 877.19,1115.01 877.8,1114.92 878.41,1114.83 879.01,1114.73 879.62,1114.63 880.23,1114.53 880.84,1114.42 881.44,1114.3 882.05,1114.18 882.66,1114.05 883.27,1113.92 883.87,1113.79 884.48,1113.64 885.09,1113.49 885.7,1113.33 886.31,1113.17 886.91,1113 887.52,1112.82 888.13,1112.63 888.74,1112.44 889.34,1112.23 889.95,1112.02 890.56,1111.79 891.17,1111.56 891.77,1111.32 892.38,1111.06 892.99,1110.79 893.6,1110.52 894.2,1110.23 894.81,1109.92 895.42,1109.61 896.03,1109.28 896.63,1108.93 897.24,1108.57 897.85,1108.19 898.46,1107.8 899.06,1107.39 899.67,1106.97 900.28,1106.52 900.89,1106.06 901.49,1105.57 902.1,1105.07 902.71,1104.54 903.32,1103.99 903.92,1103.42 904.53,1102.83 905.14,1102.21 905.75,1101.57 906.36,1100.89 906.96,1100.2 907.57,1099.47 908.18,1098.71 908.79,1097.93 909.39,1097.11 910,1096.26 910.61,1095.38 911.22,1094.46 911.82,1093.51 912.43,1092.53 913.04,1091.5 913.65,1090.44 914.25,1089.34 914.86,1088.2 915.47,1087.02 916.08,1085.8 916.68,1084.53 917.29,1083.22 917.9,1081.86 918.51,1080.47 919.11,1079.02 919.72,1077.53 920.33,1075.99 920.94,1074.4 921.54,1072.76 922.15,1071.08 922.76,1069.34 923.37,1067.56 923.98,1065.72 924.58,1063.83 925.19,1061.9 925.8,1059.91 926.41,1057.88 927.01,1055.79 927.62,1053.65 928.23,1051.47 928.84,1049.24 929.44,1046.96 930.05,1044.63 930.66,1042.26 931.27,1039.84 931.87,1037.39 932.48,1034.88 933.09,1032.34 933.7,1029.77 934.3,1027.15 934.91,1024.5 935.52,1021.82 936.13,1019.12 936.73,1016.38 937.34,1013.62 937.95,1010.83 938.56,1008.03 939.16,1005.21 939.77,1002.37 940.38,999.53 940.99,996.67 941.59,993.81 942.2,990.95 942.81,988.09 943.42,985.24 944.03,982.39 944.63,979.54 945.24,976.72 945.85,973.9 946.46,971.11 947.06,968.33 947.67,965.58 948.28,962.86 948.89,960.16 949.49,957.5 950.1,954.87 950.71,952.27 951.32,949.71 951.92,947.19 952.53,944.71 953.14,942.27 953.75,939.87 954.35,937.52 954.96,935.22 955.57,932.96 956.18,930.75 956.78,928.59 957.39,926.47 958,924.41 958.61,922.4 959.21,920.44 959.82,918.52 960.43,916.66 961.04,914.85 961.65,913.09 962.25,911.38 962.86,909.71 963.47,908.1 964.08,906.53 964.68,905.02 965.29,903.55 965.9,902.12 966.51,900.74 967.11,899.41 967.72,898.12 968.33,896.88 968.94,895.67 969.54,894.51 970.15,893.39 970.76,892.31 971.37,891.26 971.97,890.26 972.58,889.29 973.19,888.35 973.8,887.45 974.4,886.59 975.01,885.75 975.62,884.95 976.23,884.18 976.83,883.44 977.44,882.72 978.05,882.04 978.66,881.38 979.26,880.75 979.87,880.14 980.48,879.56 981.09,879 981.7,878.46 982.3,877.94 982.91,877.45 983.52,876.97 984.13,876.52 984.73,876.08 985.34,875.66 985.95,875.26 986.56,874.88 987.16,874.51 987.77,874.16 988.38,873.82 988.99,873.49 989.59,873.18 990.2,872.89 990.81,872.6 991.42,872.33 992.02,872.07 992.63,871.82 993.24,871.58 993.85,871.35 994.45,871.13 995.06,870.92 995.67,870.72 996.28,870.53 996.88,870.35 997.49,870.17 998.1,870"/>
</g>
<g class="panel">
<g class="ax">
<path d="M94.9 1287 V1546.64"/>
<path d="M86.8 1538.54 H469.2"/>
<path d="M86.8 1488.45 H94.9 M86.8 1438.36 H94.9 M86.8 1388.28 H94.9 M86.8 1338.19 H94.9 M86.8 1288.1 H94.9 M188.2 1538.54 V1546.64 M281.5 1538.54 V1546.64 M374.8 1538.54 V1546.64 M468.1 1538.54 V1546.64"/>
</g>
<g class="tl" text-anchor="end">
<text transform="translate(85.8 1545.04) scale(0.88 1)">0</text>
<text transform="translate(85.8 1494.95) scale(0.88 1)">20</text>
<text transform="translate(85.8 1444.86) scale(0.88 1)">40</text>
<text transform="translate(85.8 1394.78) scale(0.88 1)">60</text>
<text transform="translate(85.8 1344.69) scale(0.88 1)">80</text>
<text transform="translate(85.8 1294.6) scale(0.88 1)">100</text>
</g>
<g class="tl" text-anchor="middle">
<text transform="translate(94.9 1565.94) scale(0.88 1)">1.5</text>
<text transform="translate(188.2 1565.94) scale(0.88 1)">2.0</text>
<text transform="translate(281.5 1565.94) scale(0.88 1)">2.5</text>
<text transform="translate(374.8 1565.94) scale(0.88 1)">3.0</text>
<text transform="translate(468.1 1565.94) scale(0.88 1)">3.5</text>
</g>
<text class="at" x="16" y="1419.02">L%</text>
<text class="at" text-anchor="middle" x="281.4" y="1593.14">Log [C]</text>
<text class="pl" text-anchor="middle" x="279.4" y="1639.1">g</text>
<circle class="mg" cx="507.1" cy="1305.3" r="4.8"/>
<rect class="mr" x="502.15" y="1329.05" width="9.9" height="9.9"/>
<text class="lg" x="535" y="1311.6">24h</text>
<text class="lg" x="535" y="1340.3">48h</text>
<path class="eg" d="M131.58 1488.9 V1513.95 M125.58 1488.9 H137.58 M125.58 1513.95 H137.58 M187.75 1463.86 V1513.95 M181.75 1463.86 H193.75 M181.75 1513.95 H193.75 M243.92 1338.64 V1363.68 M237.92 1338.64 H249.92 M237.92 1363.68 H249.92 M300.09 1313.59 V1363.68 M294.09 1313.59 H306.09 M294.09 1363.68 H306.09"/>
<circle class="mg" cx="131.58" cy="1501.42" r="4.8"/>
<circle class="mg" cx="187.75" cy="1488.9" r="4.8"/>
<circle class="mg" cx="243.92" cy="1351.16" r="4.8"/>
<circle class="mg" cx="300.09" cy="1338.64" r="4.8"/>
<circle class="mg" cx="345.45" cy="1288.55" r="4.8"/>
<circle class="mg" cx="374.35" cy="1288.55" r="4.8"/>
<path class="er" d="M131.58 1288.55 V1313.59 M125.58 1288.55 H137.58 M125.58 1313.59 H137.58 M243.92 1288.55 V1313.59 M237.92 1288.55 H249.92 M237.92 1313.59 H249.92 M300.09 1288.55 V1313.59 M294.09 1288.55 H306.09 M294.09 1313.59 H306.09"/>
<rect class="mr" x="126.63" y="1296.12" width="9.9" height="9.9"/>
<rect class="mr" x="182.8" y="1283.6" width="9.9" height="9.9"/>
<rect class="mr" x="238.97" y="1296.12" width="9.9" height="9.9"/>
<rect class="mr" x="295.14" y="1296.12" width="9.9" height="9.9"/>
<rect class="mr" x="340.5" y="1283.6" width="9.9" height="9.9"/>
<rect class="mr" x="369.4" y="1283.6" width="9.9" height="9.9"/>
<polyline class="cr" points="132.03,1294.36 132.63,1294.36 133.24,1294.36 133.85,1294.36 134.46,1294.36 135.06,1294.36 135.67,1294.36 136.28,1294.36 136.88,1294.36 137.49,1294.36 138.1,1294.36 138.7,1294.36 139.31,1294.36 139.92,1294.36 140.52,1294.36 141.13,1294.36 141.74,1294.36 142.35,1294.36 142.95,1294.36 143.56,1294.36 144.17,1294.36 144.77,1294.36 145.38,1294.36 145.99,1294.36 146.59,1294.36 147.2,1294.36 147.81,1294.36 148.41,1294.36 149.02,1294.36 149.63,1294.36 150.24,1294.36 150.84,1294.36 151.45,1294.36 152.06,1294.36 152.66,1294.36 153.27,1294.36 153.88,1294.36 154.48,1294.36 155.09,1294.36 155.7,1294.36 156.31,1294.36 156.91,1294.36 157.52,1294.36 158.13,1294.36 158.73,1294.36 159.34,1294.36 159.95,1294.36 160.55,1294.36 161.16,1294.36 161.77,1294.36 162.37,1294.36 162.98,1294.36 163.59,1294.36 164.2,1294.36 164.8,1294.36 165.41,1294.36 166.02,1294.36 166.62,1294.36 167.23,1294.36 167.84,1294.36 168.44,1294.36 169.05,1294.36 169.66,1294.36 170.26,1294.36 170.87,1294.36 171.48,1294.36 172.09,1294.36 172.69,1294.36 173.3,1294.36 173.91,1294.36 174.51,1294.36 175.12,1294.36 175.73,1294.36 176.33,1294.36 176.94,1294.36 177.55,1294.36 178.15,1294.36 178.76,1294.36 179.37,1294.36 179.98,1294.36 180.58,1294.36 181.19,1294.36 181.8,1294.36 182.4,1294.36 183.01,1294.36 183.62,1294.36 184.22,1294.36 184.83,1294.36 185.44,1294.36 186.04,1294.36 186.65,1294.36 187.26,1294.36 187.87,1294.36 188.47,1294.36 189.08,1294.36 189.69,1294.36 190.29,1294.36 190.9,1294.36 191.51,1294.36 192.11,1294.36 192.72,1294.36 193.33,1294.36 193.93,1294.36 194.54,1294.36 195.15,1294.36 195.76,1294.36 196.36,1294.36 196.97,1294.36 197.58,1294.36 198.18,1294.36 198.79,1294.36 199.4,1294.36 200,1294.36 200.61,1294.36 201.22,1294.36 201.82,1294.36 202.43,1294.36 203.04,1294.36 203.65,1294.36 204.25,1294.36 204.86,1294.36 205.47,1294.36 206.07,1294.36 206.68,1294.36 207.29,1294.36 207.89,1294.36 208.5,1294.36 209.11,1294.36 209.71,1294.36 210.32,1294.36 210.93,1294.36 211.54,1294.36 212.14,1294.36 212.75,1294.36 213.36,1294.36 213.96,1294.36 214.57,1294.36 215.18,1294.36 215.78,1294.36 216.39,1294.36 217,1294.36 217.61,1294.36 218.21,1294.36 218.82,1294.36 219.43,1294.36 220.03,1294.36 220.64,1294.36 221.25,1294.36 221.85,1294.36 222.46,1294.36 223.07,1294.36 223.67,1294.36 224.28,1294.36 224.89,1294.36 225.5,1294.36 226.1,1294.36 226.71,1294.36 227.32,1294.36 227.92,1294.36 228.53,1294.36 229.14,1294.36 229.74,1294.36 230.35,1294.36 230.96,1294.36 231.56,1294.36 232.17,1294.36 232.78,1294.36 233.39,1294.36 233.99,1294.36 234.6,1294.36 235.21,1294.36 235.81,1294.36 236.42,1294.36 237.03,1294.36 237.63,1294.36 238.24,1294.36 238.85,1294.36 239.45,1294.36 240.06,1294.36 240.67,1294.36 241.28,1294.36 241.88,1294.36 242.49,1294.36 243.1,1294.36 243.7,1294.36 244.31,1294.36 244.92,1294.36 245.52,1294.36 246.13,1294.36 246.74,1294.36 247.34,1294.36 247.95,1294.36 248.56,1294.36 249.17,1294.36 249.77,1294.36 250.38,1294.36 250.99,1294.36 251.59,1294.36 252.2,1294.36 252.81,1294.36 253.41,1294.36 254.02,1294.36 254.63,1294.36 255.23,1294.36 255.84,1294.36 256.45,1294.36 257.06,1294.36 257.66,1294.36 258.27,1294.36 258.88,1294.36 259.48,1294.36 260.09,1294.36 260.7,1294.36 261.3,1294.36 261.91,1294.36 262.52,1294.36 263.12,1294.36 263.73,1294.36 264.34,1294.36 264.95,1294.36 265.55,1294.36 266.16,1294.36 266.77,1294.36 267.37,1294.36 267.98,1294.36 268.59,1294.36 269.19,1294.36 269.8,1294.36 270.41,1294.36 271.01,1294.36 271.62,1294.36 272.23,1294.36 272.84,1294.36 273.44,1294.36 274.05,1294.36 274.66,1294.36 275.26,1294.36 275.87,1294.36 276.48,1294.36 277.08,1294.36 277.69,1294.36 278.3,1294.36 278.9,1294.36 279.51,1294.36 280.12,1294.36 280.73,1294.36 281.33,1294.36 281.94,1294.36 282.55,1294.36 283.15,1294.36 283.76,1294.36 284.37,1294.36 284.97,1294.36 285.58,1294.36 286.19,1294.36 286.8,1294.36 287.4,1294.36 288.01,1294.36 288.62,1294.36 289.22,1294.36 289.83,1294.36 290.44,1294.36 291.04,1294.36 291.65,1294.36 292.26,1294.36 292.86,1294.36 293.47,1294.36 294.08,1294.36 294.69,1294.36 295.29,1294.36 295.9,1294.36 296.51,1294.36 297.11,1294.36 297.72,1294.36 298.33,1294.36 298.93,1294.36 299.54,1294.36 300.15,1294.36 300.75,1294.36 301.36,1294.36 301.97,1294.36 302.58,1294.36 303.18,1294.36 303.79,1294.36 304.4,1294.36 305,1294.36 305.61,1294.36 306.22,1294.36 306.82,1294.36 307.43,1294.36 308.04,1294.36 308.64,1294.36 309.25,1294.36 309.86,1294.36 310.47,1294.36 311.07,1294.36 311.68,1294.36 312.29,1294.36 312.89,1294.36 313.5,1294.36 314.11,1294.36 314.71,1294.36 315.32,1294.36 315.93,1294.36 316.53,1294.36 317.14,1294.36 317.75,1294.36 318.36,1294.36 318.96,1294.36 319.57,1294.36 320.18,1294.36 320.78,1294.36 321.39,1294.36 322,1294.36 322.6,1294.36 323.21,1294.36 323.82,1294.36 324.42,1294.36 325.03,1294.36 325.64,1294.36 326.25,1294.36 326.85,1294.36 327.46,1294.36 328.07,1294.36 328.67,1294.36 329.28,1294.36 329.89,1294.36 330.49,1294.36 331.1,1294.36 331.71,1294.36 332.31,1294.36 332.92,1294.36 333.53,1294.36 334.14,1294.36 334.74,1294.36 335.35,1294.36 335.96,1294.36 336.56,1294.36 337.17,1294.36 337.78,1294.36 338.38,1294.36 338.99,1294.36 339.6,1294.36 340.2,1294.36 340.81,1294.36 341.42,1294.36 342.03,1294.36 342.63,1294.36 343.24,1294.36 343.85,1294.36 344.45,1294.36 345.06,1294.36 345.67,1294.36 346.27,1294.36 346.88,1294.36 347.49,1294.36 348.1,1294.36 348.7,1294.36 349.31,1294.36 349.92,1294.36 350.52,1294.36 351.13,1294.36 351.74,1294.36 352.34,1294.36 352.95,1294.36 353.56,1294.36 354.16,1294.36 354.77,1294.36 355.38,1294.36 355.99,1294.36 356.59,1294.36 357.2,1294.36 357.81,1294.36 358.41,1294.36 359.02,1294.36 359.63,1294.36 360.23,1294.36 360.84,1294.36 361.45,1294.36 362.05,1294.36 362.66,1294.36 363.27,1294.36 363.88,1294.36 364.48,1294.36 365.09,1294.36 365.7,1294.36 366.3,1294.36 366.91,1294.36 367.52,1294.36 368.12,1294.36 368.73,1294.36 369.34,1294.36 369.94,1294.36 370.55,1294.36 371.16,1294.36 371.77,1294.36 372.37,1294.36 372.98,1294.36 373.59,1294.36 374.19,1294.36 374.8,1294.36"/>
<polyline class="cg" points="132.03,1519.91 132.63,1519.61 133.24,1519.31 133.85,1519 134.46,1518.68 135.06,1518.37 135.67,1518.05 136.28,1517.72 136.88,1517.39 137.49,1517.05 138.1,1516.71 138.7,1516.37 139.31,1516.01 139.92,1515.66 140.52,1515.3 141.13,1514.93 141.74,1514.56 142.35,1514.19 142.95,1513.8 143.56,1513.42 144.17,1513.03 144.77,1512.63 145.38,1512.23 145.99,1511.82 146.59,1511.4 147.2,1510.98 147.81,1510.56 148.41,1510.13 149.02,1509.69 149.63,1509.25 150.24,1508.8 150.84,1508.34 151.45,1507.88 152.06,1507.42 152.66,1506.94 153.27,1506.47 153.88,1505.98 154.48,1505.49 155.09,1504.99 155.7,1504.49 156.31,1503.98 156.91,1503.46 157.52,1502.94 158.13,1502.41 158.73,1501.88 159.34,1501.33 159.95,1500.78 160.55,1500.23 161.16,1499.67 161.77,1499.1 162.37,1498.52 162.98,1497.94 163.59,1497.35 164.2,1496.75 164.8,1496.15 165.41,1495.54 166.02,1494.92 166.62,1494.3 167.23,1493.67 167.84,1493.03 168.44,1492.38 169.05,1491.73 169.66,1491.07 170.26,1490.41 170.87,1489.73 171.48,1489.05 172.09,1488.37 172.69,1487.67 173.3,1486.97 173.91,1486.26 174.51,1485.54 175.12,1484.82 175.73,1484.09 176.33,1483.35 176.94,1482.61 177.55,1481.86 178.15,1481.1 178.76,1480.33 179.37,1479.56 179.98,1478.78 180.58,1477.99 181.19,1477.2 181.8,1476.4 182.4,1475.59 183.01,1474.77 183.62,1473.95 184.22,1473.12 184.83,1472.28 185.44,1471.44 186.04,1470.59 186.65,1469.74 187.26,1468.87 187.87,1468 188.47,1467.13 189.08,1466.24 189.69,1465.36 190.29,1464.46 190.9,1463.56 191.51,1462.65 192.11,1461.74 192.72,1460.82 193.33,1459.89 193.93,1458.96 194.54,1458.02 195.15,1457.08 195.76,1456.13 196.36,1455.17 196.97,1454.21 197.58,1453.24 198.18,1452.27 198.79,1451.3 199.4,1450.31 200,1449.33 200.61,1448.33 201.22,1447.34 201.82,1446.34 202.43,1445.33 203.04,1444.32 203.65,1443.31 204.25,1442.29 204.86,1441.26 205.47,1440.24 206.07,1439.21 206.68,1438.17 207.29,1437.14 207.89,1436.09 208.5,1435.05 209.11,1434 209.71,1432.95 210.32,1431.9 210.93,1430.84 211.54,1429.78 212.14,1428.72 212.75,1427.66 213.36,1426.59 213.96,1425.53 214.57,1424.46 215.18,1423.39 215.78,1422.32 216.39,1421.24 217,1420.17 217.61,1419.09 218.21,1418.01 218.82,1416.94 219.43,1415.86 220.03,1414.78 220.64,1413.7 221.25,1412.62 221.85,1411.55 222.46,1410.47 223.07,1409.39 223.67,1408.31 224.28,1407.24 224.89,1406.16 225.5,1405.09 226.1,1404.01 226.71,1402.94 227.32,1401.87 227.92,1400.8 228.53,1399.74 229.14,1398.67 229.74,1397.61 230.35,1396.55 230.96,1395.49 231.56,1394.44 232.17,1393.38 232.78,1392.33 233.39,1391.29 233.99,1390.24 234.6,1389.2 235.21,1388.17 235.81,1387.13 236.42,1386.1 237.03,1385.08 237.63,1384.06 238.24,1383.04 238.85,1382.03 239.45,1381.02 240.06,1380.01 240.67,1379.01 241.28,1378.02 241.88,1377.03 242.49,1376.04 243.1,1375.06 243.7,1374.09 244.31,1373.12 244.92,1372.15 245.52,1371.19 246.13,1370.24 246.74,1369.29 247.34,1368.35 247.95,1367.41 248.56,1366.48 249.17,1365.56 249.77,1364.64 250.38,1363.73 250.99,1362.82 251.59,1361.92 252.2,1361.03 252.81,1360.14 253.41,1359.26 254.02,1358.38 254.63,1357.52 255.23,1356.65 255.84,1355.8 256.45,1354.95 257.06,1354.11 257.66,1353.28 258.27,1352.45 258.88,1351.63 259.48,1350.82 260.09,1350.01 260.7,1349.21 261.3,1348.42 261.91,1347.63 262.52,1346.86 263.12,1346.09 263.73,1345.32 264.34,1344.56 264.95,1343.81 265.55,1343.07 266.16,1342.34 266.77,1341.61 267.37,1340.89 267.98,1340.17 268.59,1339.47 269.19,1338.77 269.8,1338.07 270.41,1337.39 271.01,1336.71 271.62,1336.04 272.23,1335.37 272.84,1334.72 273.44,1334.07 274.05,1333.42 274.66,1332.79 275.26,1332.16 275.87,1331.54 276.48,1330.92 277.08,1330.31 277.69,1329.71 278.3,1329.12 278.9,1328.53 279.51,1327.95 280.12,1327.38 280.73,1326.81 281.33,1326.25 281.94,1325.7 282.55,1325.15 283.15,1324.61 283.76,1324.07 284.37,1323.55 284.97,1323.03 285.58,1322.51 286.19,1322 286.8,1321.5 287.4,1321.01 288.01,1320.52 288.62,1320.03 289.22,1319.56 289.83,1319.09 290.44,1318.62 291.04,1318.16 291.65,1317.71 292.26,1317.26 292.86,1316.82 293.47,1316.39 294.08,1315.96 294.69,1315.53 295.29,1315.12 295.9,1314.7 296.51,1314.3 297.11,1313.9 297.72,1313.5 298.33,1313.11 298.93,1312.72 299.54,1312.34 300.15,1311.97 300.75,1311.6 301.36,1311.24 301.97,1310.88 302.58,1310.52 303.18,1310.17 303.79,1309.83 304.4,1309.49 305,1309.16 305.61,1308.83 306.22,1308.5 306.82,1308.18 307.43,1307.86 308.04,1307.55 308.64,1307.25 309.25,1306.94 309.86,1306.65 310.47,1306.35 311.07,1306.06 311.68,1305.78 312.29,1305.5 312.89,1305.22 313.5,1304.95 314.11,1304.68 314.71,1304.41 315.32,1304.15 315.93,1303.9 316.53,1303.64 317.14,1303.39 317.75,1303.15 318.36,1302.91 318.96,1302.67 319.57,1302.43 320.18,1302.2 320.78,1301.98 321.39,1301.75 322,1301.53 322.6,1301.31 323.21,1301.1 323.82,1300.89 324.42,1300.68 325.03,1300.48 325.64,1300.28 326.25,1300.08 326.85,1299.88 327.46,1299.69 328.07,1299.5 328.67,1299.32 329.28,1299.13 329.89,1298.95 330.49,1298.78 331.1,1298.6 331.71,1298.43 332.31,1298.26 332.92,1298.09 333.53,1297.93 334.14,1297.77 334.74,1297.61 335.35,1297.45 335.96,1297.3 336.56,1297.15 337.17,1297 337.78,1296.85 338.38,1296.71 338.99,1296.57 339.6,1296.43 340.2,1296.29 340.81,1296.15 341.42,1296.02 342.03,1295.89 342.63,1295.76 343.24,1295.63 343.85,1295.51 344.45,1295.38 345.06,1295.26 345.67,1295.15 346.27,1295.03 346.88,1294.91 347.49,1294.8 348.1,1294.69 348.7,1294.58 349.31,1294.47 349.92,1294.36 350.52,1294.26 351.13,1294.16 351.74,1294.06 352.34,1293.96 352.95,1293.86 353.56,1293.76 354.16,1293.67 354.77,1293.58 355.38,1293.48 355.99,1293.39 356.59,1293.31 357.2,1293.22 357.81,1293.13 358.41,1293.05 359.02,1292.97 359.63,1292.88 360.23,1292.8 360.84,1292.73 361.45,1292.65 362.05,1292.57 362.66,1292.5 363.27,1292.42 363.88,1292.35 364.48,1292.28 365.09,1292.21 365.7,1292.14 366.3,1292.07 366.91,1292.01 367.52,1291.94 368.12,1291.87 368.73,1291.81 369.34,1291.75 369.94,1291.69 370.55,1291.63 371.16,1291.57 371.77,1291.51 372.37,1291.45 372.98,1291.4 373.59,1291.34 374.19,1291.29 374.8,1291.23"/>
</g>
<g class="panel">
<g class="ax">
<path d="M717.9 1286.9 V1546.1"/>
<path d="M709.8 1538 H1092.25"/>
<path d="M709.8 1488 H717.9 M709.8 1438 H717.9 M709.8 1388 H717.9 M709.8 1338 H717.9 M709.8 1288 H717.9 M811.21 1538 V1546.1 M904.52 1538 V1546.1 M997.84 1538 V1546.1 M1091.15 1538 V1546.1"/>
</g>
<g class="tl" text-anchor="end">
<text transform="translate(708.8 1544.5) scale(0.88 1)">0</text>
<text transform="translate(708.8 1494.5) scale(0.88 1)">20</text>
<text transform="translate(708.8 1444.5) scale(0.88 1)">40</text>
<text transform="translate(708.8 1394.5) scale(0.88 1)">60</text>
<text transform="translate(708.8 1344.5) scale(0.88 1)">80</text>
<text transform="translate(708.8 1294.5) scale(0.88 1)">100</text>
</g>
<g class="tl" text-anchor="middle">
<text transform="translate(717.9 1565.4) scale(0.88 1)">0</text>
<text transform="translate(811.21 1565.4) scale(0.88 1)">1</text>
<text transform="translate(904.52 1565.4) scale(0.88 1)">2</text>
<text transform="translate(997.84 1565.4) scale(0.88 1)">3</text>
<text transform="translate(1091.15 1565.4) scale(0.88 1)">4</text>
</g>
<text class="at" x="639" y="1419.4">L%</text>
<text class="at" text-anchor="middle" x="904.4" y="1592.6">Log [C]</text>
<text class="pl" text-anchor="middle" x="901.1" y="1639.3">h</text>
<circle class="mg" cx="1130.1" cy="1305.2" r="4.8"/>
<rect class="mr" x="1125.15" y="1328.95" width="9.9" height="9.9"/>
<text class="lg" x="1158" y="1311.5">24h</text>
<text class="lg" x="1158" y="1340.2">48h</text>
<path class="eg" d="M866.94 1338.45 V1388.45 M860.94 1338.45 H872.94 M860.94 1388.45 H872.94 M875.99 1363.45 V1388.45 M869.99 1363.45 H881.99 M869.99 1388.45 H881.99 M904.07 1388.45 V1438.45 M898.07 1388.45 H910.07 M898.07 1438.45 H910.07 M932.16 1388.45 V1463.45 M926.16 1388.45 H938.16 M926.16 1463.45 H938.16 M960.25 1413.45 V1463.45 M954.25 1413.45 H966.25 M954.25 1463.45 H966.25 M982.93 1463.45 V1513.45 M976.93 1463.45 H988.93 M976.93 1513.45 H988.93"/>
<circle class="mg" cx="717.45" cy="1538.45" r="4.8"/>
<circle class="mg" cx="782.67" cy="1538.45" r="4.8"/>
<circle class="mg" cx="810.76" cy="1538.45" r="4.8"/>
<circle class="mg" cx="838.85" cy="1413.45" r="4.8"/>
<circle class="mg" cx="866.94" cy="1363.45" r="4.8"/>
<circle class="mg" cx="875.99" cy="1375.95" r="4.8"/>
<circle class="mg" cx="875.99" cy="1388.45" r="4.8"/>
<circle class="mg" cx="904.07" cy="1413.45" r="4.8"/>
<circle class="mg" cx="932.16" cy="1425.95" r="4.8"/>
<circle class="mg" cx="960.25" cy="1438.45" r="4.8"/>
<circle class="mg" cx="982.93" cy="1488.45" r="4.8"/>
<circle class="mg" cx="997.39" cy="1438.45" r="4.8"/>
<path class="er" d="M782.67 1438.45 V1463.45 M776.67 1438.45 H788.67 M776.67 1463.45 H788.67 M810.76 1388.45 V1438.45 M804.76 1388.45 H816.76 M804.76 1438.45 H816.76 M838.85 1313.45 V1363.45 M832.85 1313.45 H844.85 M832.85 1363.45 H844.85"/>
<rect class="mr" x="712.5" y="1508.5" width="9.9" height="9.9"/>
<rect class="mr" x="777.72" y="1446" width="9.9" height="9.9"/>
<rect class="mr" x="805.81" y="1408.5" width="9.9" height="9.9"/>
<rect class="mr" x="833.9" y="1333.5" width="9.9" height="9.9"/>
<rect class="mr" x="861.99" y="1283.5" width="9.9" height="9.9"/>
<rect class="mr" x="871.04" y="1283.5" width="9.9" height="9.9"/>
<rect class="mr" x="871.04" y="1283.5" width="9.9" height="9.9"/>
<rect class="mr" x="899.12" y="1283.5" width="9.9" height="9.9"/>
<rect class="mr" x="927.21" y="1283.5" width="9.9" height="9.9"/>
<rect class="mr" x="955.3" y="1283.5" width="9.9" height="9.9"/>
<rect class="mr" x="977.98" y="1283.5" width="9.9" height="9.9"/>
<rect class="mr" x="992.44" y="1283.5" width="9.9" height="9.9"/>
<polyline class="cg" points="717.9,1486.53 718.6,1486.39 719.3,1486.24 720,1486.1 720.7,1485.95 721.4,1485.81 722.1,1485.66 722.8,1485.51 723.5,1485.37 724.2,1485.22 724.9,1485.07 725.6,1484.92 726.3,1484.77 727,1484.63 727.7,1484.48 728.4,1484.33 729.1,1484.18 729.8,1484.03 730.5,1483.88 731.2,1483.73 731.9,1483.58 732.6,1483.43 733.3,1483.28 734,1483.12 734.7,1482.97 735.4,1482.82 736.1,1482.67 736.8,1482.52 737.5,1482.36 738.2,1482.21 738.9,1482.06 739.6,1481.9 740.29,1481.75 740.99,1481.59 741.69,1481.44 742.39,1481.28 743.09,1481.13 743.79,1480.97 744.49,1480.82 745.19,1480.66 745.89,1480.5 746.59,1480.35 747.29,1480.19 747.99,1480.03 748.69,1479.87 749.39,1479.72 750.09,1479.56 750.79,1479.4 751.49,1479.24 752.19,1479.08 752.89,1478.92 753.59,1478.76 754.29,1478.6 754.99,1478.44 755.69,1478.28 756.39,1478.12 757.09,1477.96 757.79,1477.8 758.49,1477.63 759.19,1477.47 759.89,1477.31 760.59,1477.15 761.29,1476.98 761.99,1476.82 762.69,1476.66 763.39,1476.49 764.09,1476.33 764.79,1476.16 765.49,1476 766.19,1475.83 766.89,1475.67 767.59,1475.5 768.29,1475.34 768.99,1475.17 769.69,1475 770.39,1474.84 771.09,1474.67 771.79,1474.5 772.49,1474.33 773.19,1474.16 773.89,1474 774.59,1473.83 775.29,1473.66 775.99,1473.49 776.69,1473.32 777.39,1473.15 778.09,1472.98 778.79,1472.81 779.49,1472.64 780.19,1472.47 780.89,1472.3 781.59,1472.12 782.29,1471.95 782.99,1471.78 783.69,1471.61 784.39,1471.44 785.09,1471.26 785.78,1471.09 786.48,1470.92 787.18,1470.74 787.88,1470.57 788.58,1470.39 789.28,1470.22 789.98,1470.04 790.68,1469.87 791.38,1469.69 792.08,1469.52 792.78,1469.34 793.48,1469.16 794.18,1468.99 794.88,1468.81 795.58,1468.63 796.28,1468.45 796.98,1468.28 797.68,1468.1 798.38,1467.92 799.08,1467.74 799.78,1467.56 800.48,1467.38 801.18,1467.2 801.88,1467.02 802.58,1466.84 803.28,1466.66 803.98,1466.48 804.68,1466.3 805.38,1466.12 806.08,1465.94 806.78,1465.76 807.48,1465.58 808.18,1465.39 808.88,1465.21 809.58,1465.03 810.28,1464.85 810.98,1464.66 811.68,1464.48 812.38,1464.29 813.08,1464.11 813.78,1463.93 814.48,1463.74 815.18,1463.56 815.88,1463.37 816.58,1463.19 817.28,1463 817.98,1462.81 818.68,1462.63 819.38,1462.44 820.08,1462.25 820.78,1462.07 821.48,1461.88 822.18,1461.69 822.88,1461.5 823.58,1461.32 824.28,1461.13 824.98,1460.94 825.68,1460.75 826.38,1460.56 827.08,1460.37 827.78,1460.18 828.48,1459.99 829.18,1459.8 829.88,1459.61 830.57,1459.42 831.27,1459.23 831.97,1459.04 832.67,1458.85 833.37,1458.66 834.07,1458.46 834.77,1458.27 835.47,1458.08 836.17,1457.89 836.87,1457.69 837.57,1457.5 838.27,1457.31 838.97,1457.11 839.67,1456.92 840.37,1456.73 841.07,1456.53 841.77,1456.34 842.47,1456.14 843.17,1455.95 843.87,1455.75 844.57,1455.56 845.27,1455.36 845.97,1455.17 846.67,1454.97 847.37,1454.77 848.07,1454.58 848.77,1454.38 849.47,1454.18 850.17,1453.99 850.87,1453.79 851.57,1453.59 852.27,1453.39 852.97,1453.19 853.67,1452.99 854.37,1452.8 855.07,1452.6 855.77,1452.4 856.47,1452.2 857.17,1452 857.87,1451.8 858.57,1451.6 859.27,1451.4 859.97,1451.2 860.67,1451 861.37,1450.8 862.07,1450.6 862.77,1450.39 863.47,1450.19 864.17,1449.99 864.87,1449.79 865.57,1449.59 866.27,1449.38 866.97,1449.18 867.67,1448.98 868.37,1448.78 869.07,1448.57 869.77,1448.37 870.47,1448.17 871.17,1447.96 871.87,1447.76 872.57,1447.55 873.27,1447.35 873.97,1447.14 874.66,1446.94 875.36,1446.73 876.06,1446.53 876.76,1446.32 877.46,1446.12 878.16,1445.91 878.86,1445.71 879.56,1445.5 880.26,1445.29 880.96,1445.09 881.66,1444.88 882.36,1444.67 883.06,1444.47 883.76,1444.26 884.46,1444.05 885.16,1443.84 885.86,1443.64 886.56,1443.43 887.26,1443.22 887.96,1443.01 888.66,1442.8 889.36,1442.59 890.06,1442.38 890.76,1442.18 891.46,1441.97 892.16,1441.76 892.86,1441.55 893.56,1441.34 894.26,1441.13 894.96,1440.92 895.66,1440.71 896.36,1440.5 897.06,1440.29 897.76,1440.07 898.46,1439.86 899.16,1439.65 899.86,1439.44 900.56,1439.23 901.26,1439.02 901.96,1438.81 902.66,1438.59 903.36,1438.38 904.06,1438.17 904.76,1437.96 905.46,1437.75 906.16,1437.53 906.86,1437.32 907.56,1437.11 908.26,1436.89 908.96,1436.68 909.66,1436.47 910.36,1436.25 911.06,1436.04 911.76,1435.83 912.46,1435.61 913.16,1435.4 913.86,1435.18 914.56,1434.97 915.26,1434.76 915.96,1434.54 916.66,1434.33 917.36,1434.11 918.06,1433.9 918.76,1433.68 919.45,1433.47 920.15,1433.25 920.85,1433.03 921.55,1432.82 922.25,1432.6 922.95,1432.39 923.65,1432.17 924.35,1431.96 925.05,1431.74 925.75,1431.52 926.45,1431.31 927.15,1431.09 927.85,1430.87 928.55,1430.66 929.25,1430.44 929.95,1430.22 930.65,1430.01 931.35,1429.79 932.05,1429.57 932.75,1429.35 933.45,1429.14 934.15,1428.92 934.85,1428.7 935.55,1428.48 936.25,1428.26 936.95,1428.05 937.65,1427.83 938.35,1427.61 939.05,1427.39 939.75,1427.17 940.45,1426.95 941.15,1426.74 941.85,1426.52 942.55,1426.3 943.25,1426.08 943.95,1425.86 944.65,1425.64 945.35,1425.42 946.05,1425.2 946.75,1424.99 947.45,1424.77 948.15,1424.55 948.85,1424.33 949.55,1424.11 950.25,1423.89 950.95,1423.67 951.65,1423.45 952.35,1423.23 953.05,1423.01 953.75,1422.79 954.45,1422.57 955.15,1422.35 955.85,1422.13 956.55,1421.91 957.25,1421.69 957.95,1421.47 958.65,1421.25 959.35,1421.03 960.05,1420.81 960.75,1420.59 961.45,1420.37 962.15,1420.15 962.85,1419.93 963.55,1419.71 964.25,1419.48 964.94,1419.26 965.64,1419.04 966.34,1418.82 967.04,1418.6 967.74,1418.38 968.44,1418.16 969.14,1417.94 969.84,1417.72 970.54,1417.5 971.24,1417.28 971.94,1417.06 972.64,1416.83 973.34,1416.61 974.04,1416.39 974.74,1416.17 975.44,1415.95 976.14,1415.73 976.84,1415.51 977.54,1415.29 978.24,1415.06 978.94,1414.84 979.64,1414.62 980.34,1414.4 981.04,1414.18 981.74,1413.96 982.44,1413.74 983.14,1413.52 983.84,1413.3 984.54,1413.07 985.24,1412.85 985.94,1412.63 986.64,1412.41 987.34,1412.19 988.04,1411.97 988.74,1411.75 989.44,1411.52 990.14,1411.3 990.84,1411.08 991.54,1410.86 992.24,1410.64 992.94,1410.42 993.64,1410.2 994.34,1409.98 995.04,1409.76 995.74,1409.53 996.44,1409.31 997.14,1409.09 997.84,1408.87"/>
<polyline class="cr" points="717.9,1531.52 718.6,1531.33 719.3,1531.14 720,1530.95 720.7,1530.75 721.4,1530.54 722.1,1530.33 722.8,1530.11 723.5,1529.89 724.2,1529.66 724.9,1529.43 725.6,1529.18 726.3,1528.93 727,1528.68 727.7,1528.42 728.4,1528.15 729.1,1527.87 729.8,1527.59 730.5,1527.3 731.2,1527 731.9,1526.69 732.6,1526.37 733.3,1526.05 734,1525.72 734.7,1525.38 735.4,1525.02 736.1,1524.67 736.8,1524.3 737.5,1523.92 738.2,1523.53 738.9,1523.13 739.6,1522.72 740.29,1522.3 740.99,1521.88 741.69,1521.43 742.39,1520.98 743.09,1520.52 743.79,1520.04 744.49,1519.56 745.19,1519.06 745.89,1518.55 746.59,1518.02 747.29,1517.49 747.99,1516.94 748.69,1516.38 749.39,1515.8 750.09,1515.21 750.79,1514.6 751.49,1513.99 752.19,1513.35 752.89,1512.7 753.59,1512.04 754.29,1511.36 754.99,1510.67 755.69,1509.96 756.39,1509.23 757.09,1508.49 757.79,1507.73 758.49,1506.95 759.19,1506.16 759.89,1505.35 760.59,1504.52 761.29,1503.68 761.99,1502.82 762.69,1501.94 763.39,1501.04 764.09,1500.12 764.79,1499.18 765.49,1498.23 766.19,1497.25 766.89,1496.26 767.59,1495.25 768.29,1494.22 768.99,1493.16 769.69,1492.09 770.39,1491 771.09,1489.89 771.79,1488.76 772.49,1487.61 773.19,1486.44 773.89,1485.25 774.59,1484.04 775.29,1482.81 775.99,1481.56 776.69,1480.29 777.39,1479 778.09,1477.69 778.79,1476.36 779.49,1475.01 780.19,1473.64 780.89,1472.26 781.59,1470.85 782.29,1469.42 782.99,1467.98 783.69,1466.52 784.39,1465.03 785.09,1463.53 785.78,1462.02 786.48,1460.48 787.18,1458.93 787.88,1457.37 788.58,1455.78 789.28,1454.18 789.98,1452.57 790.68,1450.94 791.38,1449.3 792.08,1447.64 792.78,1445.97 793.48,1444.29 794.18,1442.59 794.88,1440.88 795.58,1439.16 796.28,1437.44 796.98,1435.7 797.68,1433.95 798.38,1432.19 799.08,1430.43 799.78,1428.66 800.48,1426.88 801.18,1425.1 801.88,1423.31 802.58,1421.52 803.28,1419.72 803.98,1417.92 804.68,1416.12 805.38,1414.32 806.08,1412.52 806.78,1410.72 807.48,1408.92 808.18,1407.12 808.88,1405.32 809.58,1403.53 810.28,1401.74 810.98,1399.95 811.68,1398.17 812.38,1396.4 813.08,1394.63 813.78,1392.87 814.48,1391.12 815.18,1389.37 815.88,1387.64 816.58,1385.92 817.28,1384.21 817.98,1382.5 818.68,1380.82 819.38,1379.14 820.08,1377.48 820.78,1375.83 821.48,1374.19 822.18,1372.57 822.88,1370.96 823.58,1369.37 824.28,1367.8 824.98,1366.24 825.68,1364.7 826.38,1363.17 827.08,1361.66 827.78,1360.17 828.48,1358.7 829.18,1357.25 829.88,1355.81 830.57,1354.4 831.27,1353 831.97,1351.62 832.67,1350.27 833.37,1348.93 834.07,1347.61 834.77,1346.31 835.47,1345.03 836.17,1343.77 836.87,1342.53 837.57,1341.31 838.27,1340.11 838.97,1338.93 839.67,1337.77 840.37,1336.63 841.07,1335.51 841.77,1334.41 842.47,1333.33 843.17,1332.27 843.87,1331.23 844.57,1330.21 845.27,1329.21 845.97,1328.22 846.67,1327.26 847.37,1326.32 848.07,1325.39 848.77,1324.48 849.47,1323.59 850.17,1322.72 850.87,1321.87 851.57,1321.03 852.27,1320.21 852.97,1319.41 853.67,1318.63 854.37,1317.86 855.07,1317.11 855.77,1316.38 856.47,1315.66 857.17,1314.96 857.87,1314.27 858.57,1313.6 859.27,1312.95 859.97,1312.31 860.67,1311.68 861.37,1311.07 862.07,1310.47 862.77,1309.89 863.47,1309.32 864.17,1308.77 864.87,1308.22 865.57,1307.69 866.27,1307.18 866.97,1306.67 867.67,1306.18 868.37,1305.7 869.07,1305.23 869.77,1304.77 870.47,1304.33 871.17,1303.89 871.87,1303.47 872.57,1303.06 873.27,1302.65 873.97,1302.26 874.66,1301.88 875.36,1301.51 876.06,1301.14 876.76,1300.79 877.46,1300.44 878.16,1300.11 878.86,1299.78 879.56,1299.46 880.26,1299.15 880.96,1298.84 881.66,1298.55 882.36,1298.26 883.06,1297.98 883.76,1297.71 884.46,1297.44 885.16,1297.18 885.86,1296.93 886.56,1296.69 887.26,1296.45 887.96,1296.22 888.66,1295.99 889.36,1295.77 890.06,1295.56 890.76,1295.35 891.46,1295.14 892.16,1294.95 892.86,1294.75 893.56,1294.57 894.26,1294.39 894.96,1294.21 895.66,1294.04 896.36,1293.87 897.06,1293.71 897.76,1293.55 898.46,1293.39 899.16,1293.24 899.86,1293.1 900.56,1292.95 901.26,1292.82 901.96,1292.68 902.66,1292.55 903.36,1292.42 904.06,1292.3 904.76,1292.18 905.46,1292.06 906.16,1291.95 906.86,1291.84 907.56,1291.73 908.26,1291.63 908.96,1291.53 909.66,1291.43 910.36,1291.33 911.06,1291.24 911.76,1291.15 912.46,1291.06 913.16,1290.97 913.86,1290.89 914.56,1290.81 915.26,1290.73 915.96,1290.65 916.66,1290.58 917.36,1290.5 918.06,1290.43 918.76,1290.37 919.45,1290.3 920.15,1290.23 920.85,1290.17 921.55,1290.11 922.25,1290.05 922.95,1289.99 923.65,1289.94 924.35,1289.88 925.05,1289.83 925.75,1289.78 926.45,1289.73 927.15,1289.68 927.85,1289.63 928.55,1289.58 929.25,1289.54 929.95,1289.5 930.65,1289.45 931.35,1289.41 932.05,1289.37 932.75,1289.33 933.45,1289.3 934.15,1289.26 934.85,1289.22 935.55,1289.19 936.25,1289.16 936.95,1289.12 937.65,1289.09 938.35,1289.06 939.05,1289.03 939.75,1289 940.45,1288.97 941.15,1288.95 941.85,1288.92 942.55,1288.89 943.25,1288.87 943.95,1288.84 944.65,1288.82 945.35,1288.8 946.05,1288.77 946.75,1288.75 947.45,1288.73 948.15,1288.71 948.85,1288.69 949.55,1288.67 950.25,1288.65 950.95,1288.63 951.65,1288.61 952.35,1288.6 953.05,1288.58 953.75,1288.56 954.45,1288.55 955.15,1288.53 955.85,1288.52 956.55,1288.5 957.25,1288.49 957.95,1288.47 958.65,1288.46 959.35,1288.45 960.05,1288.43 960.75,1288.42 961.45,1288.41 962.15,1288.4 962.85,1288.39 963.55,1288.38 964.25,1288.37 964.94,1288.36 965.64,1288.35 966.34,1288.34 967.04,1288.33 967.74,1288.32 968.44,1288.31 969.14,1288.3 969.84,1288.29 970.54,1288.28 971.24,1288.27 971.94,1288.27 972.64,1288.26 973.34,1288.25 974.04,1288.24 974.74,1288.24 975.44,1288.23 976.14,1288.22 976.84,1288.22 977.54,1288.21 978.24,1288.21 978.94,1288.2 979.64,1288.19 980.34,1288.19 981.04,1288.18 981.74,1288.18 982.44,1288.17 983.14,1288.17 983.84,1288.16 984.54,1288.16 985.24,1288.15 985.94,1288.15 986.64,1288.15 987.34,1288.14 988.04,1288.14 988.74,1288.13 989.44,1288.13 990.14,1288.13 990.84,1288.12 991.54,1288.12 992.24,1288.12 992.94,1288.11 993.64,1288.11 994.34,1288.11 995.04,1288.1 995.74,1288.1 996.44,1288.1 997.14,1288.09 997.84,1288.09"/>
</g>
</svg></body></html>
